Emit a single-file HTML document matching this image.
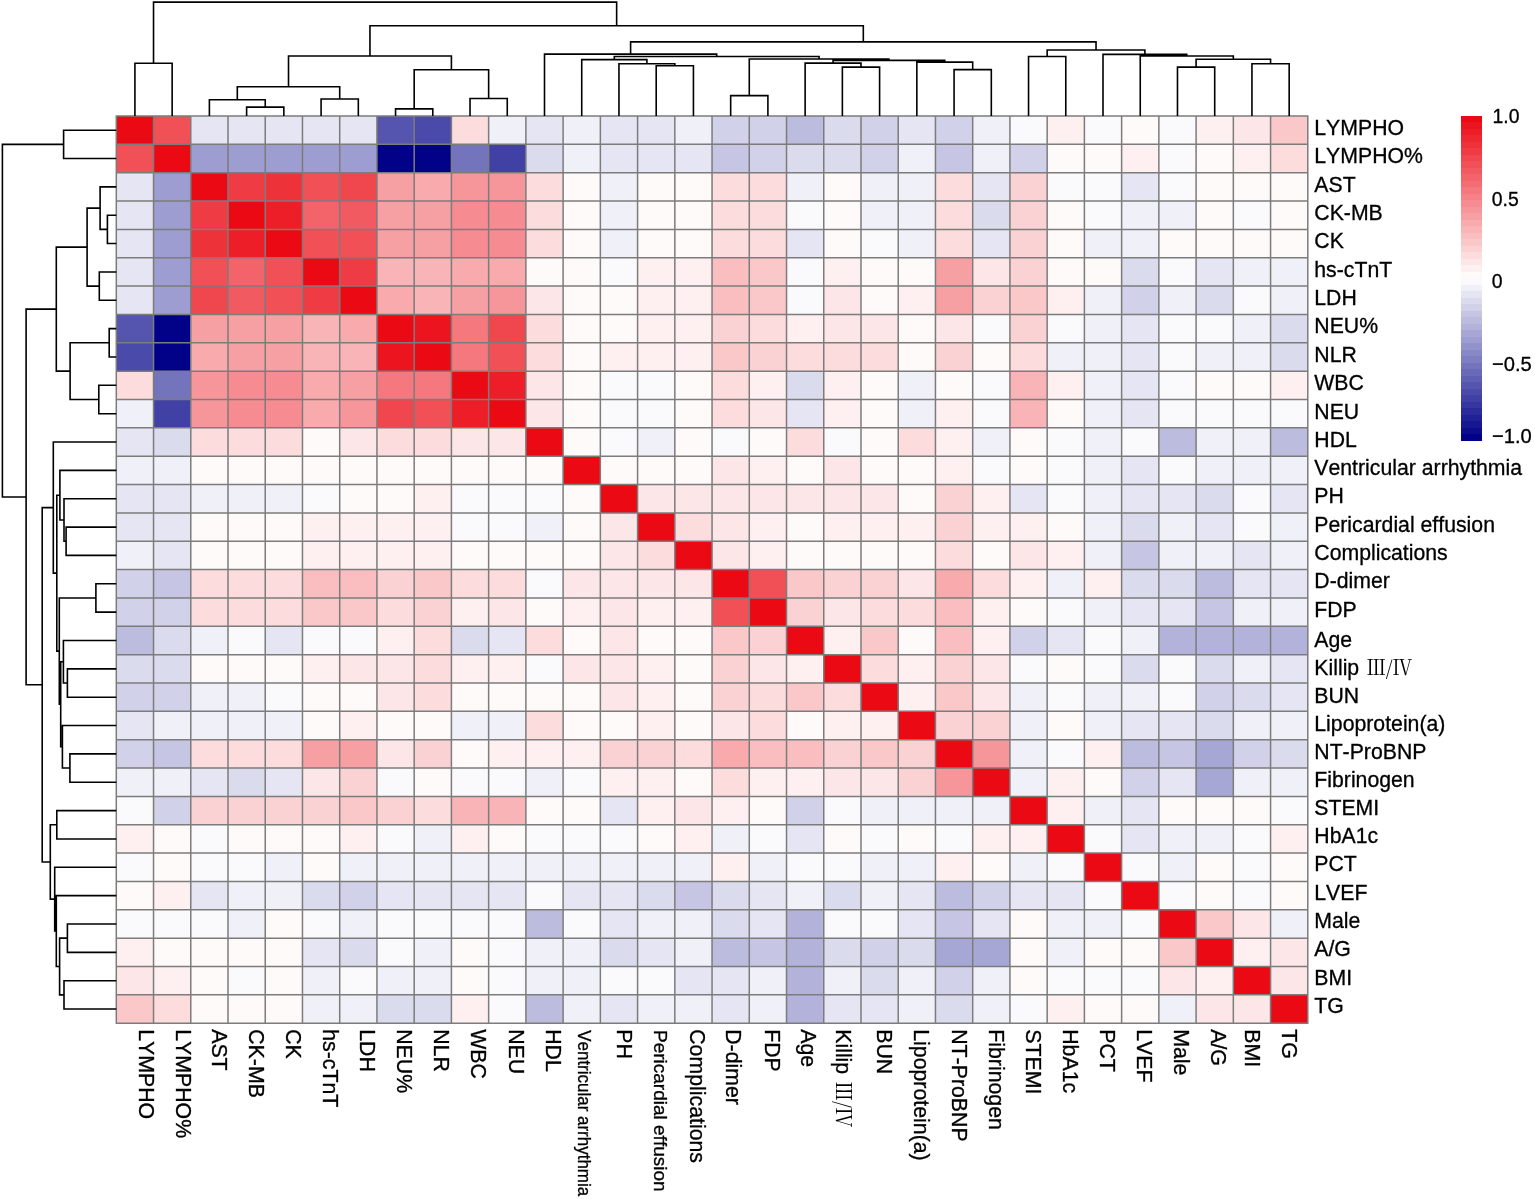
<!DOCTYPE html>
<html lang="en"><head><meta charset="utf-8"><title>Correlation heatmap</title>
<style>html,body{margin:0;padding:0;background:#fff}body{width:1535px;height:1199px;overflow:hidden}svg{display:block}text{font-kerning:none;stroke:#000;stroke-width:0.3px;font-family:"Liberation Sans","Noto Serif CJK SC",sans-serif;fill:#000}.rn{stroke-width:0;font-family:"Noto Serif CJK SC","Liberation Serif",serif}</style></head><body>
<svg width="1535" height="1199" viewBox="0 0 1535 1199">
<rect width="1535" height="1199" fill="#fff"/>
<g shape-rendering="crispEdges">
<rect x="116.30" y="116.00" width="37.28" height="28.40" fill="#eb0a14"/>
<rect x="153.53" y="116.00" width="37.28" height="28.40" fill="#f15057"/>
<rect x="190.77" y="116.00" width="37.28" height="28.40" fill="#e5e5f3"/>
<rect x="228.00" y="116.00" width="37.28" height="28.40" fill="#e5e5f3"/>
<rect x="265.24" y="116.00" width="37.28" height="28.40" fill="#e5e5f3"/>
<rect x="302.47" y="116.00" width="37.28" height="28.40" fill="#e5e5f3"/>
<rect x="339.71" y="116.00" width="37.28" height="28.40" fill="#e5e5f3"/>
<rect x="376.94" y="116.00" width="37.28" height="28.40" fill="#5555af"/>
<rect x="414.18" y="116.00" width="37.28" height="28.40" fill="#4a4aaa"/>
<rect x="451.41" y="116.00" width="37.28" height="28.40" fill="#fcdcdd"/>
<rect x="488.64" y="116.00" width="37.28" height="28.40" fill="#f0f0f8"/>
<rect x="525.88" y="116.00" width="37.28" height="28.40" fill="#e5e5f3"/>
<rect x="563.11" y="116.00" width="37.28" height="28.40" fill="#f0f0f8"/>
<rect x="600.35" y="116.00" width="37.28" height="28.40" fill="#e5e5f3"/>
<rect x="637.58" y="116.00" width="37.28" height="28.40" fill="#e5e5f3"/>
<rect x="674.82" y="116.00" width="37.28" height="28.40" fill="#f0f0f8"/>
<rect x="712.05" y="116.00" width="37.28" height="28.40" fill="#d1d1e9"/>
<rect x="749.28" y="116.00" width="37.28" height="28.40" fill="#d1d1e9"/>
<rect x="786.52" y="116.00" width="37.28" height="28.40" fill="#bcbcdf"/>
<rect x="823.75" y="116.00" width="37.28" height="28.40" fill="#dbdbee"/>
<rect x="860.99" y="116.00" width="37.28" height="28.40" fill="#d1d1e9"/>
<rect x="898.22" y="116.00" width="37.28" height="28.40" fill="#e5e5f3"/>
<rect x="935.46" y="116.00" width="37.28" height="28.40" fill="#d1d1e9"/>
<rect x="972.69" y="116.00" width="37.28" height="28.40" fill="#f0f0f8"/>
<rect x="1009.92" y="116.00" width="37.28" height="28.40" fill="#fafafd"/>
<rect x="1047.16" y="116.00" width="37.28" height="28.40" fill="#fef0f1"/>
<rect x="1084.39" y="116.00" width="37.28" height="28.40" fill="#fafafd"/>
<rect x="1121.63" y="116.00" width="37.28" height="28.40" fill="#fffafa"/>
<rect x="1158.86" y="116.00" width="37.28" height="28.40" fill="#fafafd"/>
<rect x="1196.10" y="116.00" width="37.28" height="28.40" fill="#fef0f1"/>
<rect x="1233.33" y="116.00" width="37.28" height="28.40" fill="#fde6e7"/>
<rect x="1270.57" y="116.00" width="37.28" height="28.40" fill="#fbc8ca"/>
<rect x="116.30" y="144.35" width="37.28" height="28.40" fill="#f15057"/>
<rect x="153.53" y="144.35" width="37.28" height="28.40" fill="#eb0a14"/>
<rect x="190.77" y="144.35" width="37.28" height="28.40" fill="#9d9dd1"/>
<rect x="228.00" y="144.35" width="37.28" height="28.40" fill="#9d9dd1"/>
<rect x="265.24" y="144.35" width="37.28" height="28.40" fill="#9d9dd1"/>
<rect x="302.47" y="144.35" width="37.28" height="28.40" fill="#9d9dd1"/>
<rect x="339.71" y="144.35" width="37.28" height="28.40" fill="#9d9dd1"/>
<rect x="376.94" y="144.35" width="37.28" height="28.40" fill="#020288"/>
<rect x="414.18" y="144.35" width="37.28" height="28.40" fill="#020288"/>
<rect x="451.41" y="144.35" width="37.28" height="28.40" fill="#7474bd"/>
<rect x="488.64" y="144.35" width="37.28" height="28.40" fill="#4040a5"/>
<rect x="525.88" y="144.35" width="37.28" height="28.40" fill="#dbdbee"/>
<rect x="563.11" y="144.35" width="37.28" height="28.40" fill="#f0f0f8"/>
<rect x="600.35" y="144.35" width="37.28" height="28.40" fill="#e5e5f3"/>
<rect x="637.58" y="144.35" width="37.28" height="28.40" fill="#e5e5f3"/>
<rect x="674.82" y="144.35" width="37.28" height="28.40" fill="#e5e5f3"/>
<rect x="712.05" y="144.35" width="37.28" height="28.40" fill="#c6c6e4"/>
<rect x="749.28" y="144.35" width="37.28" height="28.40" fill="#d1d1e9"/>
<rect x="786.52" y="144.35" width="37.28" height="28.40" fill="#dbdbee"/>
<rect x="823.75" y="144.35" width="37.28" height="28.40" fill="#dbdbee"/>
<rect x="860.99" y="144.35" width="37.28" height="28.40" fill="#d1d1e9"/>
<rect x="898.22" y="144.35" width="37.28" height="28.40" fill="#f0f0f8"/>
<rect x="935.46" y="144.35" width="37.28" height="28.40" fill="#c6c6e4"/>
<rect x="972.69" y="144.35" width="37.28" height="28.40" fill="#f0f0f8"/>
<rect x="1009.92" y="144.35" width="37.28" height="28.40" fill="#d1d1e9"/>
<rect x="1047.16" y="144.35" width="37.28" height="28.40" fill="#fffafa"/>
<rect x="1084.39" y="144.35" width="37.28" height="28.40" fill="#fffafa"/>
<rect x="1121.63" y="144.35" width="37.28" height="28.40" fill="#fef0f1"/>
<rect x="1158.86" y="144.35" width="37.28" height="28.40" fill="#fafafd"/>
<rect x="1196.10" y="144.35" width="37.28" height="28.40" fill="#fffafa"/>
<rect x="1233.33" y="144.35" width="37.28" height="28.40" fill="#fef0f1"/>
<rect x="1270.57" y="144.35" width="37.28" height="28.40" fill="#fcdcdd"/>
<rect x="116.30" y="172.70" width="37.28" height="28.40" fill="#e5e5f3"/>
<rect x="153.53" y="172.70" width="37.28" height="28.40" fill="#9d9dd1"/>
<rect x="190.77" y="172.70" width="37.28" height="28.40" fill="#eb0a14"/>
<rect x="228.00" y="172.70" width="37.28" height="28.40" fill="#ef3c44"/>
<rect x="265.24" y="172.70" width="37.28" height="28.40" fill="#ee323a"/>
<rect x="302.47" y="172.70" width="37.28" height="28.40" fill="#f15057"/>
<rect x="339.71" y="172.70" width="37.28" height="28.40" fill="#f0464e"/>
<rect x="376.94" y="172.70" width="37.28" height="28.40" fill="#f7a0a4"/>
<rect x="414.18" y="172.70" width="37.28" height="28.40" fill="#f8aaad"/>
<rect x="451.41" y="172.70" width="37.28" height="28.40" fill="#f6969a"/>
<rect x="488.64" y="172.70" width="37.28" height="28.40" fill="#f6969a"/>
<rect x="525.88" y="172.70" width="37.28" height="28.40" fill="#fcdcdd"/>
<rect x="563.11" y="172.70" width="37.28" height="28.40" fill="#fffafa"/>
<rect x="600.35" y="172.70" width="37.28" height="28.40" fill="#f0f0f8"/>
<rect x="637.58" y="172.70" width="37.28" height="28.40" fill="#fffafa"/>
<rect x="674.82" y="172.70" width="37.28" height="28.40" fill="#fffafa"/>
<rect x="712.05" y="172.70" width="37.28" height="28.40" fill="#fcdcdd"/>
<rect x="749.28" y="172.70" width="37.28" height="28.40" fill="#fcdcdd"/>
<rect x="786.52" y="172.70" width="37.28" height="28.40" fill="#f0f0f8"/>
<rect x="823.75" y="172.70" width="37.28" height="28.40" fill="#fffafa"/>
<rect x="860.99" y="172.70" width="37.28" height="28.40" fill="#f0f0f8"/>
<rect x="898.22" y="172.70" width="37.28" height="28.40" fill="#f0f0f8"/>
<rect x="935.46" y="172.70" width="37.28" height="28.40" fill="#fcdcdd"/>
<rect x="972.69" y="172.70" width="37.28" height="28.40" fill="#e5e5f3"/>
<rect x="1009.92" y="172.70" width="37.28" height="28.40" fill="#fbd2d4"/>
<rect x="1047.16" y="172.70" width="37.28" height="28.40" fill="#fafafd"/>
<rect x="1084.39" y="172.70" width="37.28" height="28.40" fill="#fafafd"/>
<rect x="1121.63" y="172.70" width="37.28" height="28.40" fill="#e5e5f3"/>
<rect x="1158.86" y="172.70" width="37.28" height="28.40" fill="#fafafd"/>
<rect x="1196.10" y="172.70" width="37.28" height="28.40" fill="#fffafa"/>
<rect x="1233.33" y="172.70" width="37.28" height="28.40" fill="#fffafa"/>
<rect x="1270.57" y="172.70" width="37.28" height="28.40" fill="#fffafa"/>
<rect x="116.30" y="201.05" width="37.28" height="28.40" fill="#e5e5f3"/>
<rect x="153.53" y="201.05" width="37.28" height="28.40" fill="#9d9dd1"/>
<rect x="190.77" y="201.05" width="37.28" height="28.40" fill="#ef3c44"/>
<rect x="228.00" y="201.05" width="37.28" height="28.40" fill="#eb0a14"/>
<rect x="265.24" y="201.05" width="37.28" height="28.40" fill="#ed1e27"/>
<rect x="302.47" y="201.05" width="37.28" height="28.40" fill="#f2646a"/>
<rect x="339.71" y="201.05" width="37.28" height="28.40" fill="#f25a61"/>
<rect x="376.94" y="201.05" width="37.28" height="28.40" fill="#f7a0a4"/>
<rect x="414.18" y="201.05" width="37.28" height="28.40" fill="#f7a0a4"/>
<rect x="451.41" y="201.05" width="37.28" height="28.40" fill="#f68c91"/>
<rect x="488.64" y="201.05" width="37.28" height="28.40" fill="#f68c91"/>
<rect x="525.88" y="201.05" width="37.28" height="28.40" fill="#fcdcdd"/>
<rect x="563.11" y="201.05" width="37.28" height="28.40" fill="#fffafa"/>
<rect x="600.35" y="201.05" width="37.28" height="28.40" fill="#f0f0f8"/>
<rect x="637.58" y="201.05" width="37.28" height="28.40" fill="#fffafa"/>
<rect x="674.82" y="201.05" width="37.28" height="28.40" fill="#fffafa"/>
<rect x="712.05" y="201.05" width="37.28" height="28.40" fill="#fcdcdd"/>
<rect x="749.28" y="201.05" width="37.28" height="28.40" fill="#fcdcdd"/>
<rect x="786.52" y="201.05" width="37.28" height="28.40" fill="#fafafd"/>
<rect x="823.75" y="201.05" width="37.28" height="28.40" fill="#fffafa"/>
<rect x="860.99" y="201.05" width="37.28" height="28.40" fill="#f0f0f8"/>
<rect x="898.22" y="201.05" width="37.28" height="28.40" fill="#f0f0f8"/>
<rect x="935.46" y="201.05" width="37.28" height="28.40" fill="#fcdcdd"/>
<rect x="972.69" y="201.05" width="37.28" height="28.40" fill="#dbdbee"/>
<rect x="1009.92" y="201.05" width="37.28" height="28.40" fill="#fbd2d4"/>
<rect x="1047.16" y="201.05" width="37.28" height="28.40" fill="#fffafa"/>
<rect x="1084.39" y="201.05" width="37.28" height="28.40" fill="#fafafd"/>
<rect x="1121.63" y="201.05" width="37.28" height="28.40" fill="#f0f0f8"/>
<rect x="1158.86" y="201.05" width="37.28" height="28.40" fill="#f0f0f8"/>
<rect x="1196.10" y="201.05" width="37.28" height="28.40" fill="#fffafa"/>
<rect x="1233.33" y="201.05" width="37.28" height="28.40" fill="#fafafd"/>
<rect x="1270.57" y="201.05" width="37.28" height="28.40" fill="#fffafa"/>
<rect x="116.30" y="229.40" width="37.28" height="28.40" fill="#e5e5f3"/>
<rect x="153.53" y="229.40" width="37.28" height="28.40" fill="#9d9dd1"/>
<rect x="190.77" y="229.40" width="37.28" height="28.40" fill="#ee323a"/>
<rect x="228.00" y="229.40" width="37.28" height="28.40" fill="#ed1e27"/>
<rect x="265.24" y="229.40" width="37.28" height="28.40" fill="#eb0a14"/>
<rect x="302.47" y="229.40" width="37.28" height="28.40" fill="#f15057"/>
<rect x="339.71" y="229.40" width="37.28" height="28.40" fill="#f15057"/>
<rect x="376.94" y="229.40" width="37.28" height="28.40" fill="#f7a0a4"/>
<rect x="414.18" y="229.40" width="37.28" height="28.40" fill="#f7a0a4"/>
<rect x="451.41" y="229.40" width="37.28" height="28.40" fill="#f68c91"/>
<rect x="488.64" y="229.40" width="37.28" height="28.40" fill="#f68c91"/>
<rect x="525.88" y="229.40" width="37.28" height="28.40" fill="#fcdcdd"/>
<rect x="563.11" y="229.40" width="37.28" height="28.40" fill="#fffafa"/>
<rect x="600.35" y="229.40" width="37.28" height="28.40" fill="#f0f0f8"/>
<rect x="637.58" y="229.40" width="37.28" height="28.40" fill="#fffafa"/>
<rect x="674.82" y="229.40" width="37.28" height="28.40" fill="#fffafa"/>
<rect x="712.05" y="229.40" width="37.28" height="28.40" fill="#fcdcdd"/>
<rect x="749.28" y="229.40" width="37.28" height="28.40" fill="#fcdcdd"/>
<rect x="786.52" y="229.40" width="37.28" height="28.40" fill="#e5e5f3"/>
<rect x="823.75" y="229.40" width="37.28" height="28.40" fill="#fffafa"/>
<rect x="860.99" y="229.40" width="37.28" height="28.40" fill="#fafafd"/>
<rect x="898.22" y="229.40" width="37.28" height="28.40" fill="#f0f0f8"/>
<rect x="935.46" y="229.40" width="37.28" height="28.40" fill="#fcdcdd"/>
<rect x="972.69" y="229.40" width="37.28" height="28.40" fill="#e5e5f3"/>
<rect x="1009.92" y="229.40" width="37.28" height="28.40" fill="#fbd2d4"/>
<rect x="1047.16" y="229.40" width="37.28" height="28.40" fill="#fffafa"/>
<rect x="1084.39" y="229.40" width="37.28" height="28.40" fill="#f0f0f8"/>
<rect x="1121.63" y="229.40" width="37.28" height="28.40" fill="#f0f0f8"/>
<rect x="1158.86" y="229.40" width="37.28" height="28.40" fill="#fffafa"/>
<rect x="1196.10" y="229.40" width="37.28" height="28.40" fill="#fffafa"/>
<rect x="1233.33" y="229.40" width="37.28" height="28.40" fill="#fffafa"/>
<rect x="1270.57" y="229.40" width="37.28" height="28.40" fill="#fffafa"/>
<rect x="116.30" y="257.75" width="37.28" height="28.40" fill="#e5e5f3"/>
<rect x="153.53" y="257.75" width="37.28" height="28.40" fill="#9d9dd1"/>
<rect x="190.77" y="257.75" width="37.28" height="28.40" fill="#f15057"/>
<rect x="228.00" y="257.75" width="37.28" height="28.40" fill="#f2646a"/>
<rect x="265.24" y="257.75" width="37.28" height="28.40" fill="#f15057"/>
<rect x="302.47" y="257.75" width="37.28" height="28.40" fill="#eb0a14"/>
<rect x="339.71" y="257.75" width="37.28" height="28.40" fill="#ef3c44"/>
<rect x="376.94" y="257.75" width="37.28" height="28.40" fill="#f9b4b7"/>
<rect x="414.18" y="257.75" width="37.28" height="28.40" fill="#f9b4b7"/>
<rect x="451.41" y="257.75" width="37.28" height="28.40" fill="#f8aaad"/>
<rect x="488.64" y="257.75" width="37.28" height="28.40" fill="#f8aaad"/>
<rect x="525.88" y="257.75" width="37.28" height="28.40" fill="#fffafa"/>
<rect x="563.11" y="257.75" width="37.28" height="28.40" fill="#fffafa"/>
<rect x="600.35" y="257.75" width="37.28" height="28.40" fill="#fafafd"/>
<rect x="637.58" y="257.75" width="37.28" height="28.40" fill="#fef0f1"/>
<rect x="674.82" y="257.75" width="37.28" height="28.40" fill="#fef0f1"/>
<rect x="712.05" y="257.75" width="37.28" height="28.40" fill="#fabec1"/>
<rect x="749.28" y="257.75" width="37.28" height="28.40" fill="#fbc8ca"/>
<rect x="786.52" y="257.75" width="37.28" height="28.40" fill="#fafafd"/>
<rect x="823.75" y="257.75" width="37.28" height="28.40" fill="#fef0f1"/>
<rect x="860.99" y="257.75" width="37.28" height="28.40" fill="#fffafa"/>
<rect x="898.22" y="257.75" width="37.28" height="28.40" fill="#fffafa"/>
<rect x="935.46" y="257.75" width="37.28" height="28.40" fill="#f7a0a4"/>
<rect x="972.69" y="257.75" width="37.28" height="28.40" fill="#fde6e7"/>
<rect x="1009.92" y="257.75" width="37.28" height="28.40" fill="#fbd2d4"/>
<rect x="1047.16" y="257.75" width="37.28" height="28.40" fill="#fffafa"/>
<rect x="1084.39" y="257.75" width="37.28" height="28.40" fill="#fffafa"/>
<rect x="1121.63" y="257.75" width="37.28" height="28.40" fill="#dbdbee"/>
<rect x="1158.86" y="257.75" width="37.28" height="28.40" fill="#fafafd"/>
<rect x="1196.10" y="257.75" width="37.28" height="28.40" fill="#e5e5f3"/>
<rect x="1233.33" y="257.75" width="37.28" height="28.40" fill="#f0f0f8"/>
<rect x="1270.57" y="257.75" width="37.28" height="28.40" fill="#f0f0f8"/>
<rect x="116.30" y="286.10" width="37.28" height="28.40" fill="#e5e5f3"/>
<rect x="153.53" y="286.10" width="37.28" height="28.40" fill="#9d9dd1"/>
<rect x="190.77" y="286.10" width="37.28" height="28.40" fill="#f0464e"/>
<rect x="228.00" y="286.10" width="37.28" height="28.40" fill="#f25a61"/>
<rect x="265.24" y="286.10" width="37.28" height="28.40" fill="#f15057"/>
<rect x="302.47" y="286.10" width="37.28" height="28.40" fill="#ef3c44"/>
<rect x="339.71" y="286.10" width="37.28" height="28.40" fill="#eb0a14"/>
<rect x="376.94" y="286.10" width="37.28" height="28.40" fill="#f8aaad"/>
<rect x="414.18" y="286.10" width="37.28" height="28.40" fill="#f9b4b7"/>
<rect x="451.41" y="286.10" width="37.28" height="28.40" fill="#f7a0a4"/>
<rect x="488.64" y="286.10" width="37.28" height="28.40" fill="#f6969a"/>
<rect x="525.88" y="286.10" width="37.28" height="28.40" fill="#fde6e7"/>
<rect x="563.11" y="286.10" width="37.28" height="28.40" fill="#fffafa"/>
<rect x="600.35" y="286.10" width="37.28" height="28.40" fill="#fffafa"/>
<rect x="637.58" y="286.10" width="37.28" height="28.40" fill="#fef0f1"/>
<rect x="674.82" y="286.10" width="37.28" height="28.40" fill="#fef0f1"/>
<rect x="712.05" y="286.10" width="37.28" height="28.40" fill="#fabec1"/>
<rect x="749.28" y="286.10" width="37.28" height="28.40" fill="#fbc8ca"/>
<rect x="786.52" y="286.10" width="37.28" height="28.40" fill="#fafafd"/>
<rect x="823.75" y="286.10" width="37.28" height="28.40" fill="#fde6e7"/>
<rect x="860.99" y="286.10" width="37.28" height="28.40" fill="#fffafa"/>
<rect x="898.22" y="286.10" width="37.28" height="28.40" fill="#fef0f1"/>
<rect x="935.46" y="286.10" width="37.28" height="28.40" fill="#f7a0a4"/>
<rect x="972.69" y="286.10" width="37.28" height="28.40" fill="#fbd2d4"/>
<rect x="1009.92" y="286.10" width="37.28" height="28.40" fill="#fbc8ca"/>
<rect x="1047.16" y="286.10" width="37.28" height="28.40" fill="#fef0f1"/>
<rect x="1084.39" y="286.10" width="37.28" height="28.40" fill="#f0f0f8"/>
<rect x="1121.63" y="286.10" width="37.28" height="28.40" fill="#d1d1e9"/>
<rect x="1158.86" y="286.10" width="37.28" height="28.40" fill="#f0f0f8"/>
<rect x="1196.10" y="286.10" width="37.28" height="28.40" fill="#dbdbee"/>
<rect x="1233.33" y="286.10" width="37.28" height="28.40" fill="#fafafd"/>
<rect x="1270.57" y="286.10" width="37.28" height="28.40" fill="#f0f0f8"/>
<rect x="116.30" y="314.45" width="37.28" height="28.40" fill="#5555af"/>
<rect x="153.53" y="314.45" width="37.28" height="28.40" fill="#020288"/>
<rect x="190.77" y="314.45" width="37.28" height="28.40" fill="#f7a0a4"/>
<rect x="228.00" y="314.45" width="37.28" height="28.40" fill="#f7a0a4"/>
<rect x="265.24" y="314.45" width="37.28" height="28.40" fill="#f7a0a4"/>
<rect x="302.47" y="314.45" width="37.28" height="28.40" fill="#f9b4b7"/>
<rect x="339.71" y="314.45" width="37.28" height="28.40" fill="#f8aaad"/>
<rect x="376.94" y="314.45" width="37.28" height="28.40" fill="#eb0a14"/>
<rect x="414.18" y="314.45" width="37.28" height="28.40" fill="#ec141e"/>
<rect x="451.41" y="314.45" width="37.28" height="28.40" fill="#f4787e"/>
<rect x="488.64" y="314.45" width="37.28" height="28.40" fill="#f0464e"/>
<rect x="525.88" y="314.45" width="37.28" height="28.40" fill="#fcdcdd"/>
<rect x="563.11" y="314.45" width="37.28" height="28.40" fill="#fffafa"/>
<rect x="600.35" y="314.45" width="37.28" height="28.40" fill="#fffafa"/>
<rect x="637.58" y="314.45" width="37.28" height="28.40" fill="#fef0f1"/>
<rect x="674.82" y="314.45" width="37.28" height="28.40" fill="#fef0f1"/>
<rect x="712.05" y="314.45" width="37.28" height="28.40" fill="#fbd2d4"/>
<rect x="749.28" y="314.45" width="37.28" height="28.40" fill="#fcdcdd"/>
<rect x="786.52" y="314.45" width="37.28" height="28.40" fill="#fef0f1"/>
<rect x="823.75" y="314.45" width="37.28" height="28.40" fill="#fde6e7"/>
<rect x="860.99" y="314.45" width="37.28" height="28.40" fill="#fde6e7"/>
<rect x="898.22" y="314.45" width="37.28" height="28.40" fill="#fffafa"/>
<rect x="935.46" y="314.45" width="37.28" height="28.40" fill="#fde6e7"/>
<rect x="972.69" y="314.45" width="37.28" height="28.40" fill="#fafafd"/>
<rect x="1009.92" y="314.45" width="37.28" height="28.40" fill="#fbd2d4"/>
<rect x="1047.16" y="314.45" width="37.28" height="28.40" fill="#fafafd"/>
<rect x="1084.39" y="314.45" width="37.28" height="28.40" fill="#f0f0f8"/>
<rect x="1121.63" y="314.45" width="37.28" height="28.40" fill="#e5e5f3"/>
<rect x="1158.86" y="314.45" width="37.28" height="28.40" fill="#fafafd"/>
<rect x="1196.10" y="314.45" width="37.28" height="28.40" fill="#fafafd"/>
<rect x="1233.33" y="314.45" width="37.28" height="28.40" fill="#f0f0f8"/>
<rect x="1270.57" y="314.45" width="37.28" height="28.40" fill="#dbdbee"/>
<rect x="116.30" y="342.80" width="37.28" height="28.40" fill="#4a4aaa"/>
<rect x="153.53" y="342.80" width="37.28" height="28.40" fill="#020288"/>
<rect x="190.77" y="342.80" width="37.28" height="28.40" fill="#f8aaad"/>
<rect x="228.00" y="342.80" width="37.28" height="28.40" fill="#f7a0a4"/>
<rect x="265.24" y="342.80" width="37.28" height="28.40" fill="#f7a0a4"/>
<rect x="302.47" y="342.80" width="37.28" height="28.40" fill="#f9b4b7"/>
<rect x="339.71" y="342.80" width="37.28" height="28.40" fill="#f9b4b7"/>
<rect x="376.94" y="342.80" width="37.28" height="28.40" fill="#ec141e"/>
<rect x="414.18" y="342.80" width="37.28" height="28.40" fill="#eb0a14"/>
<rect x="451.41" y="342.80" width="37.28" height="28.40" fill="#f4787e"/>
<rect x="488.64" y="342.80" width="37.28" height="28.40" fill="#f15057"/>
<rect x="525.88" y="342.80" width="37.28" height="28.40" fill="#fcdcdd"/>
<rect x="563.11" y="342.80" width="37.28" height="28.40" fill="#fffafa"/>
<rect x="600.35" y="342.80" width="37.28" height="28.40" fill="#fef0f1"/>
<rect x="637.58" y="342.80" width="37.28" height="28.40" fill="#fef0f1"/>
<rect x="674.82" y="342.80" width="37.28" height="28.40" fill="#fef0f1"/>
<rect x="712.05" y="342.80" width="37.28" height="28.40" fill="#fbc8ca"/>
<rect x="749.28" y="342.80" width="37.28" height="28.40" fill="#fbd2d4"/>
<rect x="786.52" y="342.80" width="37.28" height="28.40" fill="#fcdcdd"/>
<rect x="823.75" y="342.80" width="37.28" height="28.40" fill="#fcdcdd"/>
<rect x="860.99" y="342.80" width="37.28" height="28.40" fill="#fcdcdd"/>
<rect x="898.22" y="342.80" width="37.28" height="28.40" fill="#fffafa"/>
<rect x="935.46" y="342.80" width="37.28" height="28.40" fill="#fbd2d4"/>
<rect x="972.69" y="342.80" width="37.28" height="28.40" fill="#fffafa"/>
<rect x="1009.92" y="342.80" width="37.28" height="28.40" fill="#fcdcdd"/>
<rect x="1047.16" y="342.80" width="37.28" height="28.40" fill="#f0f0f8"/>
<rect x="1084.39" y="342.80" width="37.28" height="28.40" fill="#f0f0f8"/>
<rect x="1121.63" y="342.80" width="37.28" height="28.40" fill="#e5e5f3"/>
<rect x="1158.86" y="342.80" width="37.28" height="28.40" fill="#fafafd"/>
<rect x="1196.10" y="342.80" width="37.28" height="28.40" fill="#f0f0f8"/>
<rect x="1233.33" y="342.80" width="37.28" height="28.40" fill="#f0f0f8"/>
<rect x="1270.57" y="342.80" width="37.28" height="28.40" fill="#dbdbee"/>
<rect x="116.30" y="371.15" width="37.28" height="28.40" fill="#fcdcdd"/>
<rect x="153.53" y="371.15" width="37.28" height="28.40" fill="#7474bd"/>
<rect x="190.77" y="371.15" width="37.28" height="28.40" fill="#f6969a"/>
<rect x="228.00" y="371.15" width="37.28" height="28.40" fill="#f68c91"/>
<rect x="265.24" y="371.15" width="37.28" height="28.40" fill="#f68c91"/>
<rect x="302.47" y="371.15" width="37.28" height="28.40" fill="#f8aaad"/>
<rect x="339.71" y="371.15" width="37.28" height="28.40" fill="#f7a0a4"/>
<rect x="376.94" y="371.15" width="37.28" height="28.40" fill="#f4787e"/>
<rect x="414.18" y="371.15" width="37.28" height="28.40" fill="#f4787e"/>
<rect x="451.41" y="371.15" width="37.28" height="28.40" fill="#eb0a14"/>
<rect x="488.64" y="371.15" width="37.28" height="28.40" fill="#ed1e27"/>
<rect x="525.88" y="371.15" width="37.28" height="28.40" fill="#fde6e7"/>
<rect x="563.11" y="371.15" width="37.28" height="28.40" fill="#fffafa"/>
<rect x="600.35" y="371.15" width="37.28" height="28.40" fill="#fafafd"/>
<rect x="637.58" y="371.15" width="37.28" height="28.40" fill="#fafafd"/>
<rect x="674.82" y="371.15" width="37.28" height="28.40" fill="#fffafa"/>
<rect x="712.05" y="371.15" width="37.28" height="28.40" fill="#fcdcdd"/>
<rect x="749.28" y="371.15" width="37.28" height="28.40" fill="#fef0f1"/>
<rect x="786.52" y="371.15" width="37.28" height="28.40" fill="#dbdbee"/>
<rect x="823.75" y="371.15" width="37.28" height="28.40" fill="#fef0f1"/>
<rect x="860.99" y="371.15" width="37.28" height="28.40" fill="#fffafa"/>
<rect x="898.22" y="371.15" width="37.28" height="28.40" fill="#f0f0f8"/>
<rect x="935.46" y="371.15" width="37.28" height="28.40" fill="#fffafa"/>
<rect x="972.69" y="371.15" width="37.28" height="28.40" fill="#fafafd"/>
<rect x="1009.92" y="371.15" width="37.28" height="28.40" fill="#f9b4b7"/>
<rect x="1047.16" y="371.15" width="37.28" height="28.40" fill="#fef0f1"/>
<rect x="1084.39" y="371.15" width="37.28" height="28.40" fill="#f0f0f8"/>
<rect x="1121.63" y="371.15" width="37.28" height="28.40" fill="#e5e5f3"/>
<rect x="1158.86" y="371.15" width="37.28" height="28.40" fill="#fafafd"/>
<rect x="1196.10" y="371.15" width="37.28" height="28.40" fill="#fffafa"/>
<rect x="1233.33" y="371.15" width="37.28" height="28.40" fill="#fffafa"/>
<rect x="1270.57" y="371.15" width="37.28" height="28.40" fill="#fef0f1"/>
<rect x="116.30" y="399.50" width="37.28" height="28.40" fill="#f0f0f8"/>
<rect x="153.53" y="399.50" width="37.28" height="28.40" fill="#4040a5"/>
<rect x="190.77" y="399.50" width="37.28" height="28.40" fill="#f6969a"/>
<rect x="228.00" y="399.50" width="37.28" height="28.40" fill="#f68c91"/>
<rect x="265.24" y="399.50" width="37.28" height="28.40" fill="#f68c91"/>
<rect x="302.47" y="399.50" width="37.28" height="28.40" fill="#f8aaad"/>
<rect x="339.71" y="399.50" width="37.28" height="28.40" fill="#f6969a"/>
<rect x="376.94" y="399.50" width="37.28" height="28.40" fill="#f0464e"/>
<rect x="414.18" y="399.50" width="37.28" height="28.40" fill="#f15057"/>
<rect x="451.41" y="399.50" width="37.28" height="28.40" fill="#ed1e27"/>
<rect x="488.64" y="399.50" width="37.28" height="28.40" fill="#eb0a14"/>
<rect x="525.88" y="399.50" width="37.28" height="28.40" fill="#fde6e7"/>
<rect x="563.11" y="399.50" width="37.28" height="28.40" fill="#fffafa"/>
<rect x="600.35" y="399.50" width="37.28" height="28.40" fill="#fafafd"/>
<rect x="637.58" y="399.50" width="37.28" height="28.40" fill="#fafafd"/>
<rect x="674.82" y="399.50" width="37.28" height="28.40" fill="#fffafa"/>
<rect x="712.05" y="399.50" width="37.28" height="28.40" fill="#fcdcdd"/>
<rect x="749.28" y="399.50" width="37.28" height="28.40" fill="#fde6e7"/>
<rect x="786.52" y="399.50" width="37.28" height="28.40" fill="#e5e5f3"/>
<rect x="823.75" y="399.50" width="37.28" height="28.40" fill="#fef0f1"/>
<rect x="860.99" y="399.50" width="37.28" height="28.40" fill="#fffafa"/>
<rect x="898.22" y="399.50" width="37.28" height="28.40" fill="#f0f0f8"/>
<rect x="935.46" y="399.50" width="37.28" height="28.40" fill="#fef0f1"/>
<rect x="972.69" y="399.50" width="37.28" height="28.40" fill="#fafafd"/>
<rect x="1009.92" y="399.50" width="37.28" height="28.40" fill="#f9b4b7"/>
<rect x="1047.16" y="399.50" width="37.28" height="28.40" fill="#fffafa"/>
<rect x="1084.39" y="399.50" width="37.28" height="28.40" fill="#f0f0f8"/>
<rect x="1121.63" y="399.50" width="37.28" height="28.40" fill="#e5e5f3"/>
<rect x="1158.86" y="399.50" width="37.28" height="28.40" fill="#fafafd"/>
<rect x="1196.10" y="399.50" width="37.28" height="28.40" fill="#fafafd"/>
<rect x="1233.33" y="399.50" width="37.28" height="28.40" fill="#fafafd"/>
<rect x="1270.57" y="399.50" width="37.28" height="28.40" fill="#fafafd"/>
<rect x="116.30" y="427.85" width="37.28" height="28.40" fill="#e5e5f3"/>
<rect x="153.53" y="427.85" width="37.28" height="28.40" fill="#dbdbee"/>
<rect x="190.77" y="427.85" width="37.28" height="28.40" fill="#fcdcdd"/>
<rect x="228.00" y="427.85" width="37.28" height="28.40" fill="#fcdcdd"/>
<rect x="265.24" y="427.85" width="37.28" height="28.40" fill="#fcdcdd"/>
<rect x="302.47" y="427.85" width="37.28" height="28.40" fill="#fffafa"/>
<rect x="339.71" y="427.85" width="37.28" height="28.40" fill="#fde6e7"/>
<rect x="376.94" y="427.85" width="37.28" height="28.40" fill="#fcdcdd"/>
<rect x="414.18" y="427.85" width="37.28" height="28.40" fill="#fcdcdd"/>
<rect x="451.41" y="427.85" width="37.28" height="28.40" fill="#fde6e7"/>
<rect x="488.64" y="427.85" width="37.28" height="28.40" fill="#fde6e7"/>
<rect x="525.88" y="427.85" width="37.28" height="28.40" fill="#eb0a14"/>
<rect x="563.11" y="427.85" width="37.28" height="28.40" fill="#fffafa"/>
<rect x="600.35" y="427.85" width="37.28" height="28.40" fill="#fafafd"/>
<rect x="637.58" y="427.85" width="37.28" height="28.40" fill="#f0f0f8"/>
<rect x="674.82" y="427.85" width="37.28" height="28.40" fill="#fffafa"/>
<rect x="712.05" y="427.85" width="37.28" height="28.40" fill="#fafafd"/>
<rect x="749.28" y="427.85" width="37.28" height="28.40" fill="#fffafa"/>
<rect x="786.52" y="427.85" width="37.28" height="28.40" fill="#fcdcdd"/>
<rect x="823.75" y="427.85" width="37.28" height="28.40" fill="#fafafd"/>
<rect x="860.99" y="427.85" width="37.28" height="28.40" fill="#fffafa"/>
<rect x="898.22" y="427.85" width="37.28" height="28.40" fill="#fcdcdd"/>
<rect x="935.46" y="427.85" width="37.28" height="28.40" fill="#fef0f1"/>
<rect x="972.69" y="427.85" width="37.28" height="28.40" fill="#f0f0f8"/>
<rect x="1009.92" y="427.85" width="37.28" height="28.40" fill="#fffafa"/>
<rect x="1047.16" y="427.85" width="37.28" height="28.40" fill="#fafafd"/>
<rect x="1084.39" y="427.85" width="37.28" height="28.40" fill="#f0f0f8"/>
<rect x="1121.63" y="427.85" width="37.28" height="28.40" fill="#fafafd"/>
<rect x="1158.86" y="427.85" width="37.28" height="28.40" fill="#bcbcdf"/>
<rect x="1196.10" y="427.85" width="37.28" height="28.40" fill="#f0f0f8"/>
<rect x="1233.33" y="427.85" width="37.28" height="28.40" fill="#f0f0f8"/>
<rect x="1270.57" y="427.85" width="37.28" height="28.40" fill="#bcbcdf"/>
<rect x="116.30" y="456.20" width="37.28" height="28.40" fill="#f0f0f8"/>
<rect x="153.53" y="456.20" width="37.28" height="28.40" fill="#f0f0f8"/>
<rect x="190.77" y="456.20" width="37.28" height="28.40" fill="#fffafa"/>
<rect x="228.00" y="456.20" width="37.28" height="28.40" fill="#fffafa"/>
<rect x="265.24" y="456.20" width="37.28" height="28.40" fill="#fffafa"/>
<rect x="302.47" y="456.20" width="37.28" height="28.40" fill="#fffafa"/>
<rect x="339.71" y="456.20" width="37.28" height="28.40" fill="#fffafa"/>
<rect x="376.94" y="456.20" width="37.28" height="28.40" fill="#fffafa"/>
<rect x="414.18" y="456.20" width="37.28" height="28.40" fill="#fffafa"/>
<rect x="451.41" y="456.20" width="37.28" height="28.40" fill="#fffafa"/>
<rect x="488.64" y="456.20" width="37.28" height="28.40" fill="#fffafa"/>
<rect x="525.88" y="456.20" width="37.28" height="28.40" fill="#fffafa"/>
<rect x="563.11" y="456.20" width="37.28" height="28.40" fill="#eb0a14"/>
<rect x="600.35" y="456.20" width="37.28" height="28.40" fill="#fffafa"/>
<rect x="637.58" y="456.20" width="37.28" height="28.40" fill="#fffafa"/>
<rect x="674.82" y="456.20" width="37.28" height="28.40" fill="#fffafa"/>
<rect x="712.05" y="456.20" width="37.28" height="28.40" fill="#fde6e7"/>
<rect x="749.28" y="456.20" width="37.28" height="28.40" fill="#fef0f1"/>
<rect x="786.52" y="456.20" width="37.28" height="28.40" fill="#fffafa"/>
<rect x="823.75" y="456.20" width="37.28" height="28.40" fill="#fde6e7"/>
<rect x="860.99" y="456.20" width="37.28" height="28.40" fill="#fffafa"/>
<rect x="898.22" y="456.20" width="37.28" height="28.40" fill="#fffafa"/>
<rect x="935.46" y="456.20" width="37.28" height="28.40" fill="#fef0f1"/>
<rect x="972.69" y="456.20" width="37.28" height="28.40" fill="#fafafd"/>
<rect x="1009.92" y="456.20" width="37.28" height="28.40" fill="#fffafa"/>
<rect x="1047.16" y="456.20" width="37.28" height="28.40" fill="#fafafd"/>
<rect x="1084.39" y="456.20" width="37.28" height="28.40" fill="#f0f0f8"/>
<rect x="1121.63" y="456.20" width="37.28" height="28.40" fill="#e5e5f3"/>
<rect x="1158.86" y="456.20" width="37.28" height="28.40" fill="#fafafd"/>
<rect x="1196.10" y="456.20" width="37.28" height="28.40" fill="#f0f0f8"/>
<rect x="1233.33" y="456.20" width="37.28" height="28.40" fill="#f0f0f8"/>
<rect x="1270.57" y="456.20" width="37.28" height="28.40" fill="#f0f0f8"/>
<rect x="116.30" y="484.55" width="37.28" height="28.40" fill="#e5e5f3"/>
<rect x="153.53" y="484.55" width="37.28" height="28.40" fill="#e5e5f3"/>
<rect x="190.77" y="484.55" width="37.28" height="28.40" fill="#f0f0f8"/>
<rect x="228.00" y="484.55" width="37.28" height="28.40" fill="#f0f0f8"/>
<rect x="265.24" y="484.55" width="37.28" height="28.40" fill="#f0f0f8"/>
<rect x="302.47" y="484.55" width="37.28" height="28.40" fill="#fafafd"/>
<rect x="339.71" y="484.55" width="37.28" height="28.40" fill="#fffafa"/>
<rect x="376.94" y="484.55" width="37.28" height="28.40" fill="#fffafa"/>
<rect x="414.18" y="484.55" width="37.28" height="28.40" fill="#fef0f1"/>
<rect x="451.41" y="484.55" width="37.28" height="28.40" fill="#fafafd"/>
<rect x="488.64" y="484.55" width="37.28" height="28.40" fill="#fafafd"/>
<rect x="525.88" y="484.55" width="37.28" height="28.40" fill="#fafafd"/>
<rect x="563.11" y="484.55" width="37.28" height="28.40" fill="#fffafa"/>
<rect x="600.35" y="484.55" width="37.28" height="28.40" fill="#eb0a14"/>
<rect x="637.58" y="484.55" width="37.28" height="28.40" fill="#fde6e7"/>
<rect x="674.82" y="484.55" width="37.28" height="28.40" fill="#fde6e7"/>
<rect x="712.05" y="484.55" width="37.28" height="28.40" fill="#fde6e7"/>
<rect x="749.28" y="484.55" width="37.28" height="28.40" fill="#fde6e7"/>
<rect x="786.52" y="484.55" width="37.28" height="28.40" fill="#fde6e7"/>
<rect x="823.75" y="484.55" width="37.28" height="28.40" fill="#fde6e7"/>
<rect x="860.99" y="484.55" width="37.28" height="28.40" fill="#fde6e7"/>
<rect x="898.22" y="484.55" width="37.28" height="28.40" fill="#fffafa"/>
<rect x="935.46" y="484.55" width="37.28" height="28.40" fill="#fbd2d4"/>
<rect x="972.69" y="484.55" width="37.28" height="28.40" fill="#fef0f1"/>
<rect x="1009.92" y="484.55" width="37.28" height="28.40" fill="#e5e5f3"/>
<rect x="1047.16" y="484.55" width="37.28" height="28.40" fill="#fafafd"/>
<rect x="1084.39" y="484.55" width="37.28" height="28.40" fill="#f0f0f8"/>
<rect x="1121.63" y="484.55" width="37.28" height="28.40" fill="#e5e5f3"/>
<rect x="1158.86" y="484.55" width="37.28" height="28.40" fill="#e5e5f3"/>
<rect x="1196.10" y="484.55" width="37.28" height="28.40" fill="#dbdbee"/>
<rect x="1233.33" y="484.55" width="37.28" height="28.40" fill="#fafafd"/>
<rect x="1270.57" y="484.55" width="37.28" height="28.40" fill="#e5e5f3"/>
<rect x="116.30" y="512.90" width="37.28" height="28.40" fill="#e5e5f3"/>
<rect x="153.53" y="512.90" width="37.28" height="28.40" fill="#e5e5f3"/>
<rect x="190.77" y="512.90" width="37.28" height="28.40" fill="#fffafa"/>
<rect x="228.00" y="512.90" width="37.28" height="28.40" fill="#fffafa"/>
<rect x="265.24" y="512.90" width="37.28" height="28.40" fill="#fffafa"/>
<rect x="302.47" y="512.90" width="37.28" height="28.40" fill="#fef0f1"/>
<rect x="339.71" y="512.90" width="37.28" height="28.40" fill="#fef0f1"/>
<rect x="376.94" y="512.90" width="37.28" height="28.40" fill="#fef0f1"/>
<rect x="414.18" y="512.90" width="37.28" height="28.40" fill="#fef0f1"/>
<rect x="451.41" y="512.90" width="37.28" height="28.40" fill="#fafafd"/>
<rect x="488.64" y="512.90" width="37.28" height="28.40" fill="#fafafd"/>
<rect x="525.88" y="512.90" width="37.28" height="28.40" fill="#f0f0f8"/>
<rect x="563.11" y="512.90" width="37.28" height="28.40" fill="#fffafa"/>
<rect x="600.35" y="512.90" width="37.28" height="28.40" fill="#fde6e7"/>
<rect x="637.58" y="512.90" width="37.28" height="28.40" fill="#eb0a14"/>
<rect x="674.82" y="512.90" width="37.28" height="28.40" fill="#fcdcdd"/>
<rect x="712.05" y="512.90" width="37.28" height="28.40" fill="#fde6e7"/>
<rect x="749.28" y="512.90" width="37.28" height="28.40" fill="#fef0f1"/>
<rect x="786.52" y="512.90" width="37.28" height="28.40" fill="#fffafa"/>
<rect x="823.75" y="512.90" width="37.28" height="28.40" fill="#fef0f1"/>
<rect x="860.99" y="512.90" width="37.28" height="28.40" fill="#fef0f1"/>
<rect x="898.22" y="512.90" width="37.28" height="28.40" fill="#fef0f1"/>
<rect x="935.46" y="512.90" width="37.28" height="28.40" fill="#fbd2d4"/>
<rect x="972.69" y="512.90" width="37.28" height="28.40" fill="#fef0f1"/>
<rect x="1009.92" y="512.90" width="37.28" height="28.40" fill="#fef0f1"/>
<rect x="1047.16" y="512.90" width="37.28" height="28.40" fill="#fffafa"/>
<rect x="1084.39" y="512.90" width="37.28" height="28.40" fill="#f0f0f8"/>
<rect x="1121.63" y="512.90" width="37.28" height="28.40" fill="#dbdbee"/>
<rect x="1158.86" y="512.90" width="37.28" height="28.40" fill="#f0f0f8"/>
<rect x="1196.10" y="512.90" width="37.28" height="28.40" fill="#e5e5f3"/>
<rect x="1233.33" y="512.90" width="37.28" height="28.40" fill="#fafafd"/>
<rect x="1270.57" y="512.90" width="37.28" height="28.40" fill="#f0f0f8"/>
<rect x="116.30" y="541.25" width="37.28" height="28.40" fill="#f0f0f8"/>
<rect x="153.53" y="541.25" width="37.28" height="28.40" fill="#e5e5f3"/>
<rect x="190.77" y="541.25" width="37.28" height="28.40" fill="#fffafa"/>
<rect x="228.00" y="541.25" width="37.28" height="28.40" fill="#fffafa"/>
<rect x="265.24" y="541.25" width="37.28" height="28.40" fill="#fffafa"/>
<rect x="302.47" y="541.25" width="37.28" height="28.40" fill="#fef0f1"/>
<rect x="339.71" y="541.25" width="37.28" height="28.40" fill="#fef0f1"/>
<rect x="376.94" y="541.25" width="37.28" height="28.40" fill="#fef0f1"/>
<rect x="414.18" y="541.25" width="37.28" height="28.40" fill="#fef0f1"/>
<rect x="451.41" y="541.25" width="37.28" height="28.40" fill="#fffafa"/>
<rect x="488.64" y="541.25" width="37.28" height="28.40" fill="#fffafa"/>
<rect x="525.88" y="541.25" width="37.28" height="28.40" fill="#fffafa"/>
<rect x="563.11" y="541.25" width="37.28" height="28.40" fill="#fffafa"/>
<rect x="600.35" y="541.25" width="37.28" height="28.40" fill="#fde6e7"/>
<rect x="637.58" y="541.25" width="37.28" height="28.40" fill="#fcdcdd"/>
<rect x="674.82" y="541.25" width="37.28" height="28.40" fill="#eb0a14"/>
<rect x="712.05" y="541.25" width="37.28" height="28.40" fill="#fde6e7"/>
<rect x="749.28" y="541.25" width="37.28" height="28.40" fill="#fef0f1"/>
<rect x="786.52" y="541.25" width="37.28" height="28.40" fill="#fffafa"/>
<rect x="823.75" y="541.25" width="37.28" height="28.40" fill="#fffafa"/>
<rect x="860.99" y="541.25" width="37.28" height="28.40" fill="#fffafa"/>
<rect x="898.22" y="541.25" width="37.28" height="28.40" fill="#fffafa"/>
<rect x="935.46" y="541.25" width="37.28" height="28.40" fill="#fcdcdd"/>
<rect x="972.69" y="541.25" width="37.28" height="28.40" fill="#fffafa"/>
<rect x="1009.92" y="541.25" width="37.28" height="28.40" fill="#fde6e7"/>
<rect x="1047.16" y="541.25" width="37.28" height="28.40" fill="#fef0f1"/>
<rect x="1084.39" y="541.25" width="37.28" height="28.40" fill="#f0f0f8"/>
<rect x="1121.63" y="541.25" width="37.28" height="28.40" fill="#c6c6e4"/>
<rect x="1158.86" y="541.25" width="37.28" height="28.40" fill="#f0f0f8"/>
<rect x="1196.10" y="541.25" width="37.28" height="28.40" fill="#f0f0f8"/>
<rect x="1233.33" y="541.25" width="37.28" height="28.40" fill="#e5e5f3"/>
<rect x="1270.57" y="541.25" width="37.28" height="28.40" fill="#f0f0f8"/>
<rect x="116.30" y="569.60" width="37.28" height="28.40" fill="#d1d1e9"/>
<rect x="153.53" y="569.60" width="37.28" height="28.40" fill="#c6c6e4"/>
<rect x="190.77" y="569.60" width="37.28" height="28.40" fill="#fcdcdd"/>
<rect x="228.00" y="569.60" width="37.28" height="28.40" fill="#fcdcdd"/>
<rect x="265.24" y="569.60" width="37.28" height="28.40" fill="#fcdcdd"/>
<rect x="302.47" y="569.60" width="37.28" height="28.40" fill="#fabec1"/>
<rect x="339.71" y="569.60" width="37.28" height="28.40" fill="#fabec1"/>
<rect x="376.94" y="569.60" width="37.28" height="28.40" fill="#fbd2d4"/>
<rect x="414.18" y="569.60" width="37.28" height="28.40" fill="#fbc8ca"/>
<rect x="451.41" y="569.60" width="37.28" height="28.40" fill="#fcdcdd"/>
<rect x="488.64" y="569.60" width="37.28" height="28.40" fill="#fcdcdd"/>
<rect x="525.88" y="569.60" width="37.28" height="28.40" fill="#fafafd"/>
<rect x="563.11" y="569.60" width="37.28" height="28.40" fill="#fde6e7"/>
<rect x="600.35" y="569.60" width="37.28" height="28.40" fill="#fde6e7"/>
<rect x="637.58" y="569.60" width="37.28" height="28.40" fill="#fde6e7"/>
<rect x="674.82" y="569.60" width="37.28" height="28.40" fill="#fde6e7"/>
<rect x="712.05" y="569.60" width="37.28" height="28.40" fill="#eb0a14"/>
<rect x="749.28" y="569.60" width="37.28" height="28.40" fill="#f15057"/>
<rect x="786.52" y="569.60" width="37.28" height="28.40" fill="#fbc8ca"/>
<rect x="823.75" y="569.60" width="37.28" height="28.40" fill="#fbd2d4"/>
<rect x="860.99" y="569.60" width="37.28" height="28.40" fill="#fbd2d4"/>
<rect x="898.22" y="569.60" width="37.28" height="28.40" fill="#fde6e7"/>
<rect x="935.46" y="569.60" width="37.28" height="28.40" fill="#f8aaad"/>
<rect x="972.69" y="569.60" width="37.28" height="28.40" fill="#fcdcdd"/>
<rect x="1009.92" y="569.60" width="37.28" height="28.40" fill="#fef0f1"/>
<rect x="1047.16" y="569.60" width="37.28" height="28.40" fill="#f0f0f8"/>
<rect x="1084.39" y="569.60" width="37.28" height="28.40" fill="#fef0f1"/>
<rect x="1121.63" y="569.60" width="37.28" height="28.40" fill="#dbdbee"/>
<rect x="1158.86" y="569.60" width="37.28" height="28.40" fill="#dbdbee"/>
<rect x="1196.10" y="569.60" width="37.28" height="28.40" fill="#bcbcdf"/>
<rect x="1233.33" y="569.60" width="37.28" height="28.40" fill="#e5e5f3"/>
<rect x="1270.57" y="569.60" width="37.28" height="28.40" fill="#e5e5f3"/>
<rect x="116.30" y="597.95" width="37.28" height="28.40" fill="#d1d1e9"/>
<rect x="153.53" y="597.95" width="37.28" height="28.40" fill="#d1d1e9"/>
<rect x="190.77" y="597.95" width="37.28" height="28.40" fill="#fcdcdd"/>
<rect x="228.00" y="597.95" width="37.28" height="28.40" fill="#fcdcdd"/>
<rect x="265.24" y="597.95" width="37.28" height="28.40" fill="#fcdcdd"/>
<rect x="302.47" y="597.95" width="37.28" height="28.40" fill="#fbc8ca"/>
<rect x="339.71" y="597.95" width="37.28" height="28.40" fill="#fbc8ca"/>
<rect x="376.94" y="597.95" width="37.28" height="28.40" fill="#fcdcdd"/>
<rect x="414.18" y="597.95" width="37.28" height="28.40" fill="#fbd2d4"/>
<rect x="451.41" y="597.95" width="37.28" height="28.40" fill="#fef0f1"/>
<rect x="488.64" y="597.95" width="37.28" height="28.40" fill="#fde6e7"/>
<rect x="525.88" y="597.95" width="37.28" height="28.40" fill="#fffafa"/>
<rect x="563.11" y="597.95" width="37.28" height="28.40" fill="#fef0f1"/>
<rect x="600.35" y="597.95" width="37.28" height="28.40" fill="#fde6e7"/>
<rect x="637.58" y="597.95" width="37.28" height="28.40" fill="#fef0f1"/>
<rect x="674.82" y="597.95" width="37.28" height="28.40" fill="#fef0f1"/>
<rect x="712.05" y="597.95" width="37.28" height="28.40" fill="#f15057"/>
<rect x="749.28" y="597.95" width="37.28" height="28.40" fill="#eb0a14"/>
<rect x="786.52" y="597.95" width="37.28" height="28.40" fill="#fbd2d4"/>
<rect x="823.75" y="597.95" width="37.28" height="28.40" fill="#fde6e7"/>
<rect x="860.99" y="597.95" width="37.28" height="28.40" fill="#fcdcdd"/>
<rect x="898.22" y="597.95" width="37.28" height="28.40" fill="#fcdcdd"/>
<rect x="935.46" y="597.95" width="37.28" height="28.40" fill="#fabec1"/>
<rect x="972.69" y="597.95" width="37.28" height="28.40" fill="#fef0f1"/>
<rect x="1009.92" y="597.95" width="37.28" height="28.40" fill="#fffafa"/>
<rect x="1047.16" y="597.95" width="37.28" height="28.40" fill="#fafafd"/>
<rect x="1084.39" y="597.95" width="37.28" height="28.40" fill="#f0f0f8"/>
<rect x="1121.63" y="597.95" width="37.28" height="28.40" fill="#e5e5f3"/>
<rect x="1158.86" y="597.95" width="37.28" height="28.40" fill="#e5e5f3"/>
<rect x="1196.10" y="597.95" width="37.28" height="28.40" fill="#c6c6e4"/>
<rect x="1233.33" y="597.95" width="37.28" height="28.40" fill="#f0f0f8"/>
<rect x="1270.57" y="597.95" width="37.28" height="28.40" fill="#f0f0f8"/>
<rect x="116.30" y="626.30" width="37.28" height="28.40" fill="#bcbcdf"/>
<rect x="153.53" y="626.30" width="37.28" height="28.40" fill="#dbdbee"/>
<rect x="190.77" y="626.30" width="37.28" height="28.40" fill="#f0f0f8"/>
<rect x="228.00" y="626.30" width="37.28" height="28.40" fill="#fafafd"/>
<rect x="265.24" y="626.30" width="37.28" height="28.40" fill="#e5e5f3"/>
<rect x="302.47" y="626.30" width="37.28" height="28.40" fill="#fafafd"/>
<rect x="339.71" y="626.30" width="37.28" height="28.40" fill="#fafafd"/>
<rect x="376.94" y="626.30" width="37.28" height="28.40" fill="#fef0f1"/>
<rect x="414.18" y="626.30" width="37.28" height="28.40" fill="#fcdcdd"/>
<rect x="451.41" y="626.30" width="37.28" height="28.40" fill="#dbdbee"/>
<rect x="488.64" y="626.30" width="37.28" height="28.40" fill="#e5e5f3"/>
<rect x="525.88" y="626.30" width="37.28" height="28.40" fill="#fcdcdd"/>
<rect x="563.11" y="626.30" width="37.28" height="28.40" fill="#fffafa"/>
<rect x="600.35" y="626.30" width="37.28" height="28.40" fill="#fde6e7"/>
<rect x="637.58" y="626.30" width="37.28" height="28.40" fill="#fffafa"/>
<rect x="674.82" y="626.30" width="37.28" height="28.40" fill="#fffafa"/>
<rect x="712.05" y="626.30" width="37.28" height="28.40" fill="#fbc8ca"/>
<rect x="749.28" y="626.30" width="37.28" height="28.40" fill="#fbd2d4"/>
<rect x="786.52" y="626.30" width="37.28" height="28.40" fill="#eb0a14"/>
<rect x="823.75" y="626.30" width="37.28" height="28.40" fill="#fef0f1"/>
<rect x="860.99" y="626.30" width="37.28" height="28.40" fill="#fbc8ca"/>
<rect x="898.22" y="626.30" width="37.28" height="28.40" fill="#fffafa"/>
<rect x="935.46" y="626.30" width="37.28" height="28.40" fill="#fabec1"/>
<rect x="972.69" y="626.30" width="37.28" height="28.40" fill="#fef0f1"/>
<rect x="1009.92" y="626.30" width="37.28" height="28.40" fill="#d1d1e9"/>
<rect x="1047.16" y="626.30" width="37.28" height="28.40" fill="#e5e5f3"/>
<rect x="1084.39" y="626.30" width="37.28" height="28.40" fill="#fafafd"/>
<rect x="1121.63" y="626.30" width="37.28" height="28.40" fill="#f0f0f8"/>
<rect x="1158.86" y="626.30" width="37.28" height="28.40" fill="#b2b2db"/>
<rect x="1196.10" y="626.30" width="37.28" height="28.40" fill="#b2b2db"/>
<rect x="1233.33" y="626.30" width="37.28" height="28.40" fill="#b2b2db"/>
<rect x="1270.57" y="626.30" width="37.28" height="28.40" fill="#b2b2db"/>
<rect x="116.30" y="654.65" width="37.28" height="28.40" fill="#dbdbee"/>
<rect x="153.53" y="654.65" width="37.28" height="28.40" fill="#dbdbee"/>
<rect x="190.77" y="654.65" width="37.28" height="28.40" fill="#fffafa"/>
<rect x="228.00" y="654.65" width="37.28" height="28.40" fill="#fffafa"/>
<rect x="265.24" y="654.65" width="37.28" height="28.40" fill="#fffafa"/>
<rect x="302.47" y="654.65" width="37.28" height="28.40" fill="#fef0f1"/>
<rect x="339.71" y="654.65" width="37.28" height="28.40" fill="#fde6e7"/>
<rect x="376.94" y="654.65" width="37.28" height="28.40" fill="#fde6e7"/>
<rect x="414.18" y="654.65" width="37.28" height="28.40" fill="#fcdcdd"/>
<rect x="451.41" y="654.65" width="37.28" height="28.40" fill="#fef0f1"/>
<rect x="488.64" y="654.65" width="37.28" height="28.40" fill="#fef0f1"/>
<rect x="525.88" y="654.65" width="37.28" height="28.40" fill="#fafafd"/>
<rect x="563.11" y="654.65" width="37.28" height="28.40" fill="#fde6e7"/>
<rect x="600.35" y="654.65" width="37.28" height="28.40" fill="#fde6e7"/>
<rect x="637.58" y="654.65" width="37.28" height="28.40" fill="#fef0f1"/>
<rect x="674.82" y="654.65" width="37.28" height="28.40" fill="#fffafa"/>
<rect x="712.05" y="654.65" width="37.28" height="28.40" fill="#fbd2d4"/>
<rect x="749.28" y="654.65" width="37.28" height="28.40" fill="#fde6e7"/>
<rect x="786.52" y="654.65" width="37.28" height="28.40" fill="#fef0f1"/>
<rect x="823.75" y="654.65" width="37.28" height="28.40" fill="#eb0a14"/>
<rect x="860.99" y="654.65" width="37.28" height="28.40" fill="#fcdcdd"/>
<rect x="898.22" y="654.65" width="37.28" height="28.40" fill="#fef0f1"/>
<rect x="935.46" y="654.65" width="37.28" height="28.40" fill="#fbd2d4"/>
<rect x="972.69" y="654.65" width="37.28" height="28.40" fill="#fde6e7"/>
<rect x="1009.92" y="654.65" width="37.28" height="28.40" fill="#fafafd"/>
<rect x="1047.16" y="654.65" width="37.28" height="28.40" fill="#fffafa"/>
<rect x="1084.39" y="654.65" width="37.28" height="28.40" fill="#fafafd"/>
<rect x="1121.63" y="654.65" width="37.28" height="28.40" fill="#dbdbee"/>
<rect x="1158.86" y="654.65" width="37.28" height="28.40" fill="#fafafd"/>
<rect x="1196.10" y="654.65" width="37.28" height="28.40" fill="#dbdbee"/>
<rect x="1233.33" y="654.65" width="37.28" height="28.40" fill="#f0f0f8"/>
<rect x="1270.57" y="654.65" width="37.28" height="28.40" fill="#e5e5f3"/>
<rect x="116.30" y="683.00" width="37.28" height="28.40" fill="#d1d1e9"/>
<rect x="153.53" y="683.00" width="37.28" height="28.40" fill="#d1d1e9"/>
<rect x="190.77" y="683.00" width="37.28" height="28.40" fill="#f0f0f8"/>
<rect x="228.00" y="683.00" width="37.28" height="28.40" fill="#f0f0f8"/>
<rect x="265.24" y="683.00" width="37.28" height="28.40" fill="#fafafd"/>
<rect x="302.47" y="683.00" width="37.28" height="28.40" fill="#fffafa"/>
<rect x="339.71" y="683.00" width="37.28" height="28.40" fill="#fffafa"/>
<rect x="376.94" y="683.00" width="37.28" height="28.40" fill="#fde6e7"/>
<rect x="414.18" y="683.00" width="37.28" height="28.40" fill="#fcdcdd"/>
<rect x="451.41" y="683.00" width="37.28" height="28.40" fill="#fffafa"/>
<rect x="488.64" y="683.00" width="37.28" height="28.40" fill="#fffafa"/>
<rect x="525.88" y="683.00" width="37.28" height="28.40" fill="#fffafa"/>
<rect x="563.11" y="683.00" width="37.28" height="28.40" fill="#fffafa"/>
<rect x="600.35" y="683.00" width="37.28" height="28.40" fill="#fde6e7"/>
<rect x="637.58" y="683.00" width="37.28" height="28.40" fill="#fef0f1"/>
<rect x="674.82" y="683.00" width="37.28" height="28.40" fill="#fffafa"/>
<rect x="712.05" y="683.00" width="37.28" height="28.40" fill="#fbd2d4"/>
<rect x="749.28" y="683.00" width="37.28" height="28.40" fill="#fcdcdd"/>
<rect x="786.52" y="683.00" width="37.28" height="28.40" fill="#fbc8ca"/>
<rect x="823.75" y="683.00" width="37.28" height="28.40" fill="#fcdcdd"/>
<rect x="860.99" y="683.00" width="37.28" height="28.40" fill="#eb0a14"/>
<rect x="898.22" y="683.00" width="37.28" height="28.40" fill="#fef0f1"/>
<rect x="935.46" y="683.00" width="37.28" height="28.40" fill="#fbc8ca"/>
<rect x="972.69" y="683.00" width="37.28" height="28.40" fill="#fde6e7"/>
<rect x="1009.92" y="683.00" width="37.28" height="28.40" fill="#f0f0f8"/>
<rect x="1047.16" y="683.00" width="37.28" height="28.40" fill="#fafafd"/>
<rect x="1084.39" y="683.00" width="37.28" height="28.40" fill="#f0f0f8"/>
<rect x="1121.63" y="683.00" width="37.28" height="28.40" fill="#f0f0f8"/>
<rect x="1158.86" y="683.00" width="37.28" height="28.40" fill="#fafafd"/>
<rect x="1196.10" y="683.00" width="37.28" height="28.40" fill="#d1d1e9"/>
<rect x="1233.33" y="683.00" width="37.28" height="28.40" fill="#dbdbee"/>
<rect x="1270.57" y="683.00" width="37.28" height="28.40" fill="#e5e5f3"/>
<rect x="116.30" y="711.35" width="37.28" height="28.40" fill="#e5e5f3"/>
<rect x="153.53" y="711.35" width="37.28" height="28.40" fill="#f0f0f8"/>
<rect x="190.77" y="711.35" width="37.28" height="28.40" fill="#f0f0f8"/>
<rect x="228.00" y="711.35" width="37.28" height="28.40" fill="#f0f0f8"/>
<rect x="265.24" y="711.35" width="37.28" height="28.40" fill="#f0f0f8"/>
<rect x="302.47" y="711.35" width="37.28" height="28.40" fill="#fffafa"/>
<rect x="339.71" y="711.35" width="37.28" height="28.40" fill="#fef0f1"/>
<rect x="376.94" y="711.35" width="37.28" height="28.40" fill="#fffafa"/>
<rect x="414.18" y="711.35" width="37.28" height="28.40" fill="#fffafa"/>
<rect x="451.41" y="711.35" width="37.28" height="28.40" fill="#f0f0f8"/>
<rect x="488.64" y="711.35" width="37.28" height="28.40" fill="#f0f0f8"/>
<rect x="525.88" y="711.35" width="37.28" height="28.40" fill="#fcdcdd"/>
<rect x="563.11" y="711.35" width="37.28" height="28.40" fill="#fffafa"/>
<rect x="600.35" y="711.35" width="37.28" height="28.40" fill="#fffafa"/>
<rect x="637.58" y="711.35" width="37.28" height="28.40" fill="#fef0f1"/>
<rect x="674.82" y="711.35" width="37.28" height="28.40" fill="#fffafa"/>
<rect x="712.05" y="711.35" width="37.28" height="28.40" fill="#fde6e7"/>
<rect x="749.28" y="711.35" width="37.28" height="28.40" fill="#fcdcdd"/>
<rect x="786.52" y="711.35" width="37.28" height="28.40" fill="#fffafa"/>
<rect x="823.75" y="711.35" width="37.28" height="28.40" fill="#fef0f1"/>
<rect x="860.99" y="711.35" width="37.28" height="28.40" fill="#fef0f1"/>
<rect x="898.22" y="711.35" width="37.28" height="28.40" fill="#eb0a14"/>
<rect x="935.46" y="711.35" width="37.28" height="28.40" fill="#fbd2d4"/>
<rect x="972.69" y="711.35" width="37.28" height="28.40" fill="#fbd2d4"/>
<rect x="1009.92" y="711.35" width="37.28" height="28.40" fill="#f0f0f8"/>
<rect x="1047.16" y="711.35" width="37.28" height="28.40" fill="#fffafa"/>
<rect x="1084.39" y="711.35" width="37.28" height="28.40" fill="#f0f0f8"/>
<rect x="1121.63" y="711.35" width="37.28" height="28.40" fill="#e5e5f3"/>
<rect x="1158.86" y="711.35" width="37.28" height="28.40" fill="#e5e5f3"/>
<rect x="1196.10" y="711.35" width="37.28" height="28.40" fill="#dbdbee"/>
<rect x="1233.33" y="711.35" width="37.28" height="28.40" fill="#f0f0f8"/>
<rect x="1270.57" y="711.35" width="37.28" height="28.40" fill="#f0f0f8"/>
<rect x="116.30" y="739.70" width="37.28" height="28.40" fill="#d1d1e9"/>
<rect x="153.53" y="739.70" width="37.28" height="28.40" fill="#c6c6e4"/>
<rect x="190.77" y="739.70" width="37.28" height="28.40" fill="#fcdcdd"/>
<rect x="228.00" y="739.70" width="37.28" height="28.40" fill="#fcdcdd"/>
<rect x="265.24" y="739.70" width="37.28" height="28.40" fill="#fcdcdd"/>
<rect x="302.47" y="739.70" width="37.28" height="28.40" fill="#f7a0a4"/>
<rect x="339.71" y="739.70" width="37.28" height="28.40" fill="#f7a0a4"/>
<rect x="376.94" y="739.70" width="37.28" height="28.40" fill="#fde6e7"/>
<rect x="414.18" y="739.70" width="37.28" height="28.40" fill="#fbd2d4"/>
<rect x="451.41" y="739.70" width="37.28" height="28.40" fill="#fffafa"/>
<rect x="488.64" y="739.70" width="37.28" height="28.40" fill="#fef0f1"/>
<rect x="525.88" y="739.70" width="37.28" height="28.40" fill="#fef0f1"/>
<rect x="563.11" y="739.70" width="37.28" height="28.40" fill="#fef0f1"/>
<rect x="600.35" y="739.70" width="37.28" height="28.40" fill="#fbd2d4"/>
<rect x="637.58" y="739.70" width="37.28" height="28.40" fill="#fbd2d4"/>
<rect x="674.82" y="739.70" width="37.28" height="28.40" fill="#fcdcdd"/>
<rect x="712.05" y="739.70" width="37.28" height="28.40" fill="#f8aaad"/>
<rect x="749.28" y="739.70" width="37.28" height="28.40" fill="#fabec1"/>
<rect x="786.52" y="739.70" width="37.28" height="28.40" fill="#fabec1"/>
<rect x="823.75" y="739.70" width="37.28" height="28.40" fill="#fbd2d4"/>
<rect x="860.99" y="739.70" width="37.28" height="28.40" fill="#fbc8ca"/>
<rect x="898.22" y="739.70" width="37.28" height="28.40" fill="#fbd2d4"/>
<rect x="935.46" y="739.70" width="37.28" height="28.40" fill="#eb0a14"/>
<rect x="972.69" y="739.70" width="37.28" height="28.40" fill="#f6969a"/>
<rect x="1009.92" y="739.70" width="37.28" height="28.40" fill="#f0f0f8"/>
<rect x="1047.16" y="739.70" width="37.28" height="28.40" fill="#fafafd"/>
<rect x="1084.39" y="739.70" width="37.28" height="28.40" fill="#fef0f1"/>
<rect x="1121.63" y="739.70" width="37.28" height="28.40" fill="#bcbcdf"/>
<rect x="1158.86" y="739.70" width="37.28" height="28.40" fill="#c6c6e4"/>
<rect x="1196.10" y="739.70" width="37.28" height="28.40" fill="#a7a7d6"/>
<rect x="1233.33" y="739.70" width="37.28" height="28.40" fill="#d1d1e9"/>
<rect x="1270.57" y="739.70" width="37.28" height="28.40" fill="#dbdbee"/>
<rect x="116.30" y="768.05" width="37.28" height="28.40" fill="#f0f0f8"/>
<rect x="153.53" y="768.05" width="37.28" height="28.40" fill="#f0f0f8"/>
<rect x="190.77" y="768.05" width="37.28" height="28.40" fill="#e5e5f3"/>
<rect x="228.00" y="768.05" width="37.28" height="28.40" fill="#dbdbee"/>
<rect x="265.24" y="768.05" width="37.28" height="28.40" fill="#e5e5f3"/>
<rect x="302.47" y="768.05" width="37.28" height="28.40" fill="#fde6e7"/>
<rect x="339.71" y="768.05" width="37.28" height="28.40" fill="#fbd2d4"/>
<rect x="376.94" y="768.05" width="37.28" height="28.40" fill="#fafafd"/>
<rect x="414.18" y="768.05" width="37.28" height="28.40" fill="#fffafa"/>
<rect x="451.41" y="768.05" width="37.28" height="28.40" fill="#fafafd"/>
<rect x="488.64" y="768.05" width="37.28" height="28.40" fill="#fafafd"/>
<rect x="525.88" y="768.05" width="37.28" height="28.40" fill="#f0f0f8"/>
<rect x="563.11" y="768.05" width="37.28" height="28.40" fill="#fafafd"/>
<rect x="600.35" y="768.05" width="37.28" height="28.40" fill="#fef0f1"/>
<rect x="637.58" y="768.05" width="37.28" height="28.40" fill="#fef0f1"/>
<rect x="674.82" y="768.05" width="37.28" height="28.40" fill="#fffafa"/>
<rect x="712.05" y="768.05" width="37.28" height="28.40" fill="#fcdcdd"/>
<rect x="749.28" y="768.05" width="37.28" height="28.40" fill="#fef0f1"/>
<rect x="786.52" y="768.05" width="37.28" height="28.40" fill="#fef0f1"/>
<rect x="823.75" y="768.05" width="37.28" height="28.40" fill="#fde6e7"/>
<rect x="860.99" y="768.05" width="37.28" height="28.40" fill="#fde6e7"/>
<rect x="898.22" y="768.05" width="37.28" height="28.40" fill="#fbd2d4"/>
<rect x="935.46" y="768.05" width="37.28" height="28.40" fill="#f6969a"/>
<rect x="972.69" y="768.05" width="37.28" height="28.40" fill="#eb0a14"/>
<rect x="1009.92" y="768.05" width="37.28" height="28.40" fill="#f0f0f8"/>
<rect x="1047.16" y="768.05" width="37.28" height="28.40" fill="#fef0f1"/>
<rect x="1084.39" y="768.05" width="37.28" height="28.40" fill="#fffafa"/>
<rect x="1121.63" y="768.05" width="37.28" height="28.40" fill="#d1d1e9"/>
<rect x="1158.86" y="768.05" width="37.28" height="28.40" fill="#e5e5f3"/>
<rect x="1196.10" y="768.05" width="37.28" height="28.40" fill="#a7a7d6"/>
<rect x="1233.33" y="768.05" width="37.28" height="28.40" fill="#f0f0f8"/>
<rect x="1270.57" y="768.05" width="37.28" height="28.40" fill="#f0f0f8"/>
<rect x="116.30" y="796.40" width="37.28" height="28.40" fill="#fafafd"/>
<rect x="153.53" y="796.40" width="37.28" height="28.40" fill="#d1d1e9"/>
<rect x="190.77" y="796.40" width="37.28" height="28.40" fill="#fbd2d4"/>
<rect x="228.00" y="796.40" width="37.28" height="28.40" fill="#fbd2d4"/>
<rect x="265.24" y="796.40" width="37.28" height="28.40" fill="#fbd2d4"/>
<rect x="302.47" y="796.40" width="37.28" height="28.40" fill="#fbd2d4"/>
<rect x="339.71" y="796.40" width="37.28" height="28.40" fill="#fbc8ca"/>
<rect x="376.94" y="796.40" width="37.28" height="28.40" fill="#fbd2d4"/>
<rect x="414.18" y="796.40" width="37.28" height="28.40" fill="#fcdcdd"/>
<rect x="451.41" y="796.40" width="37.28" height="28.40" fill="#f9b4b7"/>
<rect x="488.64" y="796.40" width="37.28" height="28.40" fill="#f9b4b7"/>
<rect x="525.88" y="796.40" width="37.28" height="28.40" fill="#fffafa"/>
<rect x="563.11" y="796.40" width="37.28" height="28.40" fill="#fffafa"/>
<rect x="600.35" y="796.40" width="37.28" height="28.40" fill="#e5e5f3"/>
<rect x="637.58" y="796.40" width="37.28" height="28.40" fill="#fef0f1"/>
<rect x="674.82" y="796.40" width="37.28" height="28.40" fill="#fde6e7"/>
<rect x="712.05" y="796.40" width="37.28" height="28.40" fill="#fef0f1"/>
<rect x="749.28" y="796.40" width="37.28" height="28.40" fill="#fffafa"/>
<rect x="786.52" y="796.40" width="37.28" height="28.40" fill="#d1d1e9"/>
<rect x="823.75" y="796.40" width="37.28" height="28.40" fill="#fafafd"/>
<rect x="860.99" y="796.40" width="37.28" height="28.40" fill="#f0f0f8"/>
<rect x="898.22" y="796.40" width="37.28" height="28.40" fill="#f0f0f8"/>
<rect x="935.46" y="796.40" width="37.28" height="28.40" fill="#f0f0f8"/>
<rect x="972.69" y="796.40" width="37.28" height="28.40" fill="#f0f0f8"/>
<rect x="1009.92" y="796.40" width="37.28" height="28.40" fill="#eb0a14"/>
<rect x="1047.16" y="796.40" width="37.28" height="28.40" fill="#fef0f1"/>
<rect x="1084.39" y="796.40" width="37.28" height="28.40" fill="#f0f0f8"/>
<rect x="1121.63" y="796.40" width="37.28" height="28.40" fill="#e5e5f3"/>
<rect x="1158.86" y="796.40" width="37.28" height="28.40" fill="#fffafa"/>
<rect x="1196.10" y="796.40" width="37.28" height="28.40" fill="#fffafa"/>
<rect x="1233.33" y="796.40" width="37.28" height="28.40" fill="#fffafa"/>
<rect x="1270.57" y="796.40" width="37.28" height="28.40" fill="#fafafd"/>
<rect x="116.30" y="824.75" width="37.28" height="28.40" fill="#fef0f1"/>
<rect x="153.53" y="824.75" width="37.28" height="28.40" fill="#fffafa"/>
<rect x="190.77" y="824.75" width="37.28" height="28.40" fill="#fafafd"/>
<rect x="228.00" y="824.75" width="37.28" height="28.40" fill="#fffafa"/>
<rect x="265.24" y="824.75" width="37.28" height="28.40" fill="#fffafa"/>
<rect x="302.47" y="824.75" width="37.28" height="28.40" fill="#fffafa"/>
<rect x="339.71" y="824.75" width="37.28" height="28.40" fill="#fef0f1"/>
<rect x="376.94" y="824.75" width="37.28" height="28.40" fill="#fafafd"/>
<rect x="414.18" y="824.75" width="37.28" height="28.40" fill="#f0f0f8"/>
<rect x="451.41" y="824.75" width="37.28" height="28.40" fill="#fef0f1"/>
<rect x="488.64" y="824.75" width="37.28" height="28.40" fill="#fffafa"/>
<rect x="525.88" y="824.75" width="37.28" height="28.40" fill="#fafafd"/>
<rect x="563.11" y="824.75" width="37.28" height="28.40" fill="#fafafd"/>
<rect x="600.35" y="824.75" width="37.28" height="28.40" fill="#fafafd"/>
<rect x="637.58" y="824.75" width="37.28" height="28.40" fill="#fffafa"/>
<rect x="674.82" y="824.75" width="37.28" height="28.40" fill="#fef0f1"/>
<rect x="712.05" y="824.75" width="37.28" height="28.40" fill="#f0f0f8"/>
<rect x="749.28" y="824.75" width="37.28" height="28.40" fill="#fafafd"/>
<rect x="786.52" y="824.75" width="37.28" height="28.40" fill="#e5e5f3"/>
<rect x="823.75" y="824.75" width="37.28" height="28.40" fill="#fffafa"/>
<rect x="860.99" y="824.75" width="37.28" height="28.40" fill="#fafafd"/>
<rect x="898.22" y="824.75" width="37.28" height="28.40" fill="#fffafa"/>
<rect x="935.46" y="824.75" width="37.28" height="28.40" fill="#fafafd"/>
<rect x="972.69" y="824.75" width="37.28" height="28.40" fill="#fef0f1"/>
<rect x="1009.92" y="824.75" width="37.28" height="28.40" fill="#fef0f1"/>
<rect x="1047.16" y="824.75" width="37.28" height="28.40" fill="#eb0a14"/>
<rect x="1084.39" y="824.75" width="37.28" height="28.40" fill="#fafafd"/>
<rect x="1121.63" y="824.75" width="37.28" height="28.40" fill="#e5e5f3"/>
<rect x="1158.86" y="824.75" width="37.28" height="28.40" fill="#f0f0f8"/>
<rect x="1196.10" y="824.75" width="37.28" height="28.40" fill="#f0f0f8"/>
<rect x="1233.33" y="824.75" width="37.28" height="28.40" fill="#fafafd"/>
<rect x="1270.57" y="824.75" width="37.28" height="28.40" fill="#fef0f1"/>
<rect x="116.30" y="853.10" width="37.28" height="28.40" fill="#fafafd"/>
<rect x="153.53" y="853.10" width="37.28" height="28.40" fill="#fffafa"/>
<rect x="190.77" y="853.10" width="37.28" height="28.40" fill="#fafafd"/>
<rect x="228.00" y="853.10" width="37.28" height="28.40" fill="#fafafd"/>
<rect x="265.24" y="853.10" width="37.28" height="28.40" fill="#f0f0f8"/>
<rect x="302.47" y="853.10" width="37.28" height="28.40" fill="#fffafa"/>
<rect x="339.71" y="853.10" width="37.28" height="28.40" fill="#f0f0f8"/>
<rect x="376.94" y="853.10" width="37.28" height="28.40" fill="#f0f0f8"/>
<rect x="414.18" y="853.10" width="37.28" height="28.40" fill="#f0f0f8"/>
<rect x="451.41" y="853.10" width="37.28" height="28.40" fill="#f0f0f8"/>
<rect x="488.64" y="853.10" width="37.28" height="28.40" fill="#f0f0f8"/>
<rect x="525.88" y="853.10" width="37.28" height="28.40" fill="#f0f0f8"/>
<rect x="563.11" y="853.10" width="37.28" height="28.40" fill="#f0f0f8"/>
<rect x="600.35" y="853.10" width="37.28" height="28.40" fill="#f0f0f8"/>
<rect x="637.58" y="853.10" width="37.28" height="28.40" fill="#f0f0f8"/>
<rect x="674.82" y="853.10" width="37.28" height="28.40" fill="#f0f0f8"/>
<rect x="712.05" y="853.10" width="37.28" height="28.40" fill="#fef0f1"/>
<rect x="749.28" y="853.10" width="37.28" height="28.40" fill="#f0f0f8"/>
<rect x="786.52" y="853.10" width="37.28" height="28.40" fill="#fafafd"/>
<rect x="823.75" y="853.10" width="37.28" height="28.40" fill="#fafafd"/>
<rect x="860.99" y="853.10" width="37.28" height="28.40" fill="#f0f0f8"/>
<rect x="898.22" y="853.10" width="37.28" height="28.40" fill="#f0f0f8"/>
<rect x="935.46" y="853.10" width="37.28" height="28.40" fill="#fef0f1"/>
<rect x="972.69" y="853.10" width="37.28" height="28.40" fill="#fffafa"/>
<rect x="1009.92" y="853.10" width="37.28" height="28.40" fill="#f0f0f8"/>
<rect x="1047.16" y="853.10" width="37.28" height="28.40" fill="#fafafd"/>
<rect x="1084.39" y="853.10" width="37.28" height="28.40" fill="#eb0a14"/>
<rect x="1121.63" y="853.10" width="37.28" height="28.40" fill="#fafafd"/>
<rect x="1158.86" y="853.10" width="37.28" height="28.40" fill="#f0f0f8"/>
<rect x="1196.10" y="853.10" width="37.28" height="28.40" fill="#fffafa"/>
<rect x="1233.33" y="853.10" width="37.28" height="28.40" fill="#fafafd"/>
<rect x="1270.57" y="853.10" width="37.28" height="28.40" fill="#fffafa"/>
<rect x="116.30" y="881.45" width="37.28" height="28.40" fill="#fffafa"/>
<rect x="153.53" y="881.45" width="37.28" height="28.40" fill="#fef0f1"/>
<rect x="190.77" y="881.45" width="37.28" height="28.40" fill="#e5e5f3"/>
<rect x="228.00" y="881.45" width="37.28" height="28.40" fill="#f0f0f8"/>
<rect x="265.24" y="881.45" width="37.28" height="28.40" fill="#f0f0f8"/>
<rect x="302.47" y="881.45" width="37.28" height="28.40" fill="#dbdbee"/>
<rect x="339.71" y="881.45" width="37.28" height="28.40" fill="#d1d1e9"/>
<rect x="376.94" y="881.45" width="37.28" height="28.40" fill="#e5e5f3"/>
<rect x="414.18" y="881.45" width="37.28" height="28.40" fill="#e5e5f3"/>
<rect x="451.41" y="881.45" width="37.28" height="28.40" fill="#e5e5f3"/>
<rect x="488.64" y="881.45" width="37.28" height="28.40" fill="#e5e5f3"/>
<rect x="525.88" y="881.45" width="37.28" height="28.40" fill="#fafafd"/>
<rect x="563.11" y="881.45" width="37.28" height="28.40" fill="#e5e5f3"/>
<rect x="600.35" y="881.45" width="37.28" height="28.40" fill="#e5e5f3"/>
<rect x="637.58" y="881.45" width="37.28" height="28.40" fill="#dbdbee"/>
<rect x="674.82" y="881.45" width="37.28" height="28.40" fill="#c6c6e4"/>
<rect x="712.05" y="881.45" width="37.28" height="28.40" fill="#dbdbee"/>
<rect x="749.28" y="881.45" width="37.28" height="28.40" fill="#e5e5f3"/>
<rect x="786.52" y="881.45" width="37.28" height="28.40" fill="#f0f0f8"/>
<rect x="823.75" y="881.45" width="37.28" height="28.40" fill="#dbdbee"/>
<rect x="860.99" y="881.45" width="37.28" height="28.40" fill="#f0f0f8"/>
<rect x="898.22" y="881.45" width="37.28" height="28.40" fill="#e5e5f3"/>
<rect x="935.46" y="881.45" width="37.28" height="28.40" fill="#bcbcdf"/>
<rect x="972.69" y="881.45" width="37.28" height="28.40" fill="#d1d1e9"/>
<rect x="1009.92" y="881.45" width="37.28" height="28.40" fill="#e5e5f3"/>
<rect x="1047.16" y="881.45" width="37.28" height="28.40" fill="#e5e5f3"/>
<rect x="1084.39" y="881.45" width="37.28" height="28.40" fill="#fafafd"/>
<rect x="1121.63" y="881.45" width="37.28" height="28.40" fill="#eb0a14"/>
<rect x="1158.86" y="881.45" width="37.28" height="28.40" fill="#fafafd"/>
<rect x="1196.10" y="881.45" width="37.28" height="28.40" fill="#fffafa"/>
<rect x="1233.33" y="881.45" width="37.28" height="28.40" fill="#fafafd"/>
<rect x="1270.57" y="881.45" width="37.28" height="28.40" fill="#fffafa"/>
<rect x="116.30" y="909.80" width="37.28" height="28.40" fill="#fafafd"/>
<rect x="153.53" y="909.80" width="37.28" height="28.40" fill="#fafafd"/>
<rect x="190.77" y="909.80" width="37.28" height="28.40" fill="#fafafd"/>
<rect x="228.00" y="909.80" width="37.28" height="28.40" fill="#f0f0f8"/>
<rect x="265.24" y="909.80" width="37.28" height="28.40" fill="#fffafa"/>
<rect x="302.47" y="909.80" width="37.28" height="28.40" fill="#fafafd"/>
<rect x="339.71" y="909.80" width="37.28" height="28.40" fill="#f0f0f8"/>
<rect x="376.94" y="909.80" width="37.28" height="28.40" fill="#fafafd"/>
<rect x="414.18" y="909.80" width="37.28" height="28.40" fill="#fafafd"/>
<rect x="451.41" y="909.80" width="37.28" height="28.40" fill="#fafafd"/>
<rect x="488.64" y="909.80" width="37.28" height="28.40" fill="#fafafd"/>
<rect x="525.88" y="909.80" width="37.28" height="28.40" fill="#bcbcdf"/>
<rect x="563.11" y="909.80" width="37.28" height="28.40" fill="#fafafd"/>
<rect x="600.35" y="909.80" width="37.28" height="28.40" fill="#e5e5f3"/>
<rect x="637.58" y="909.80" width="37.28" height="28.40" fill="#f0f0f8"/>
<rect x="674.82" y="909.80" width="37.28" height="28.40" fill="#f0f0f8"/>
<rect x="712.05" y="909.80" width="37.28" height="28.40" fill="#dbdbee"/>
<rect x="749.28" y="909.80" width="37.28" height="28.40" fill="#e5e5f3"/>
<rect x="786.52" y="909.80" width="37.28" height="28.40" fill="#b2b2db"/>
<rect x="823.75" y="909.80" width="37.28" height="28.40" fill="#fafafd"/>
<rect x="860.99" y="909.80" width="37.28" height="28.40" fill="#fafafd"/>
<rect x="898.22" y="909.80" width="37.28" height="28.40" fill="#e5e5f3"/>
<rect x="935.46" y="909.80" width="37.28" height="28.40" fill="#c6c6e4"/>
<rect x="972.69" y="909.80" width="37.28" height="28.40" fill="#e5e5f3"/>
<rect x="1009.92" y="909.80" width="37.28" height="28.40" fill="#fffafa"/>
<rect x="1047.16" y="909.80" width="37.28" height="28.40" fill="#f0f0f8"/>
<rect x="1084.39" y="909.80" width="37.28" height="28.40" fill="#f0f0f8"/>
<rect x="1121.63" y="909.80" width="37.28" height="28.40" fill="#fafafd"/>
<rect x="1158.86" y="909.80" width="37.28" height="28.40" fill="#eb0a14"/>
<rect x="1196.10" y="909.80" width="37.28" height="28.40" fill="#fbc8ca"/>
<rect x="1233.33" y="909.80" width="37.28" height="28.40" fill="#fde6e7"/>
<rect x="1270.57" y="909.80" width="37.28" height="28.40" fill="#f0f0f8"/>
<rect x="116.30" y="938.15" width="37.28" height="28.40" fill="#fef0f1"/>
<rect x="153.53" y="938.15" width="37.28" height="28.40" fill="#fffafa"/>
<rect x="190.77" y="938.15" width="37.28" height="28.40" fill="#fffafa"/>
<rect x="228.00" y="938.15" width="37.28" height="28.40" fill="#fffafa"/>
<rect x="265.24" y="938.15" width="37.28" height="28.40" fill="#fffafa"/>
<rect x="302.47" y="938.15" width="37.28" height="28.40" fill="#e5e5f3"/>
<rect x="339.71" y="938.15" width="37.28" height="28.40" fill="#dbdbee"/>
<rect x="376.94" y="938.15" width="37.28" height="28.40" fill="#fafafd"/>
<rect x="414.18" y="938.15" width="37.28" height="28.40" fill="#f0f0f8"/>
<rect x="451.41" y="938.15" width="37.28" height="28.40" fill="#fffafa"/>
<rect x="488.64" y="938.15" width="37.28" height="28.40" fill="#fafafd"/>
<rect x="525.88" y="938.15" width="37.28" height="28.40" fill="#f0f0f8"/>
<rect x="563.11" y="938.15" width="37.28" height="28.40" fill="#f0f0f8"/>
<rect x="600.35" y="938.15" width="37.28" height="28.40" fill="#dbdbee"/>
<rect x="637.58" y="938.15" width="37.28" height="28.40" fill="#e5e5f3"/>
<rect x="674.82" y="938.15" width="37.28" height="28.40" fill="#f0f0f8"/>
<rect x="712.05" y="938.15" width="37.28" height="28.40" fill="#bcbcdf"/>
<rect x="749.28" y="938.15" width="37.28" height="28.40" fill="#c6c6e4"/>
<rect x="786.52" y="938.15" width="37.28" height="28.40" fill="#b2b2db"/>
<rect x="823.75" y="938.15" width="37.28" height="28.40" fill="#dbdbee"/>
<rect x="860.99" y="938.15" width="37.28" height="28.40" fill="#d1d1e9"/>
<rect x="898.22" y="938.15" width="37.28" height="28.40" fill="#dbdbee"/>
<rect x="935.46" y="938.15" width="37.28" height="28.40" fill="#a7a7d6"/>
<rect x="972.69" y="938.15" width="37.28" height="28.40" fill="#a7a7d6"/>
<rect x="1009.92" y="938.15" width="37.28" height="28.40" fill="#fffafa"/>
<rect x="1047.16" y="938.15" width="37.28" height="28.40" fill="#f0f0f8"/>
<rect x="1084.39" y="938.15" width="37.28" height="28.40" fill="#fffafa"/>
<rect x="1121.63" y="938.15" width="37.28" height="28.40" fill="#fffafa"/>
<rect x="1158.86" y="938.15" width="37.28" height="28.40" fill="#fbc8ca"/>
<rect x="1196.10" y="938.15" width="37.28" height="28.40" fill="#eb0a14"/>
<rect x="1233.33" y="938.15" width="37.28" height="28.40" fill="#fef0f1"/>
<rect x="1270.57" y="938.15" width="37.28" height="28.40" fill="#fde6e7"/>
<rect x="116.30" y="966.50" width="37.28" height="28.40" fill="#fde6e7"/>
<rect x="153.53" y="966.50" width="37.28" height="28.40" fill="#fef0f1"/>
<rect x="190.77" y="966.50" width="37.28" height="28.40" fill="#fffafa"/>
<rect x="228.00" y="966.50" width="37.28" height="28.40" fill="#fafafd"/>
<rect x="265.24" y="966.50" width="37.28" height="28.40" fill="#fffafa"/>
<rect x="302.47" y="966.50" width="37.28" height="28.40" fill="#f0f0f8"/>
<rect x="339.71" y="966.50" width="37.28" height="28.40" fill="#fafafd"/>
<rect x="376.94" y="966.50" width="37.28" height="28.40" fill="#f0f0f8"/>
<rect x="414.18" y="966.50" width="37.28" height="28.40" fill="#f0f0f8"/>
<rect x="451.41" y="966.50" width="37.28" height="28.40" fill="#fffafa"/>
<rect x="488.64" y="966.50" width="37.28" height="28.40" fill="#fafafd"/>
<rect x="525.88" y="966.50" width="37.28" height="28.40" fill="#f0f0f8"/>
<rect x="563.11" y="966.50" width="37.28" height="28.40" fill="#f0f0f8"/>
<rect x="600.35" y="966.50" width="37.28" height="28.40" fill="#fafafd"/>
<rect x="637.58" y="966.50" width="37.28" height="28.40" fill="#fafafd"/>
<rect x="674.82" y="966.50" width="37.28" height="28.40" fill="#e5e5f3"/>
<rect x="712.05" y="966.50" width="37.28" height="28.40" fill="#e5e5f3"/>
<rect x="749.28" y="966.50" width="37.28" height="28.40" fill="#f0f0f8"/>
<rect x="786.52" y="966.50" width="37.28" height="28.40" fill="#b2b2db"/>
<rect x="823.75" y="966.50" width="37.28" height="28.40" fill="#f0f0f8"/>
<rect x="860.99" y="966.50" width="37.28" height="28.40" fill="#dbdbee"/>
<rect x="898.22" y="966.50" width="37.28" height="28.40" fill="#f0f0f8"/>
<rect x="935.46" y="966.50" width="37.28" height="28.40" fill="#d1d1e9"/>
<rect x="972.69" y="966.50" width="37.28" height="28.40" fill="#f0f0f8"/>
<rect x="1009.92" y="966.50" width="37.28" height="28.40" fill="#fffafa"/>
<rect x="1047.16" y="966.50" width="37.28" height="28.40" fill="#fafafd"/>
<rect x="1084.39" y="966.50" width="37.28" height="28.40" fill="#fafafd"/>
<rect x="1121.63" y="966.50" width="37.28" height="28.40" fill="#fafafd"/>
<rect x="1158.86" y="966.50" width="37.28" height="28.40" fill="#fde6e7"/>
<rect x="1196.10" y="966.50" width="37.28" height="28.40" fill="#fef0f1"/>
<rect x="1233.33" y="966.50" width="37.28" height="28.40" fill="#eb0a14"/>
<rect x="1270.57" y="966.50" width="37.28" height="28.40" fill="#fde6e7"/>
<rect x="116.30" y="994.85" width="37.28" height="28.40" fill="#fbc8ca"/>
<rect x="153.53" y="994.85" width="37.28" height="28.40" fill="#fcdcdd"/>
<rect x="190.77" y="994.85" width="37.28" height="28.40" fill="#fffafa"/>
<rect x="228.00" y="994.85" width="37.28" height="28.40" fill="#fffafa"/>
<rect x="265.24" y="994.85" width="37.28" height="28.40" fill="#fffafa"/>
<rect x="302.47" y="994.85" width="37.28" height="28.40" fill="#f0f0f8"/>
<rect x="339.71" y="994.85" width="37.28" height="28.40" fill="#f0f0f8"/>
<rect x="376.94" y="994.85" width="37.28" height="28.40" fill="#dbdbee"/>
<rect x="414.18" y="994.85" width="37.28" height="28.40" fill="#dbdbee"/>
<rect x="451.41" y="994.85" width="37.28" height="28.40" fill="#fef0f1"/>
<rect x="488.64" y="994.85" width="37.28" height="28.40" fill="#fafafd"/>
<rect x="525.88" y="994.85" width="37.28" height="28.40" fill="#bcbcdf"/>
<rect x="563.11" y="994.85" width="37.28" height="28.40" fill="#f0f0f8"/>
<rect x="600.35" y="994.85" width="37.28" height="28.40" fill="#e5e5f3"/>
<rect x="637.58" y="994.85" width="37.28" height="28.40" fill="#f0f0f8"/>
<rect x="674.82" y="994.85" width="37.28" height="28.40" fill="#f0f0f8"/>
<rect x="712.05" y="994.85" width="37.28" height="28.40" fill="#e5e5f3"/>
<rect x="749.28" y="994.85" width="37.28" height="28.40" fill="#f0f0f8"/>
<rect x="786.52" y="994.85" width="37.28" height="28.40" fill="#b2b2db"/>
<rect x="823.75" y="994.85" width="37.28" height="28.40" fill="#e5e5f3"/>
<rect x="860.99" y="994.85" width="37.28" height="28.40" fill="#e5e5f3"/>
<rect x="898.22" y="994.85" width="37.28" height="28.40" fill="#f0f0f8"/>
<rect x="935.46" y="994.85" width="37.28" height="28.40" fill="#dbdbee"/>
<rect x="972.69" y="994.85" width="37.28" height="28.40" fill="#f0f0f8"/>
<rect x="1009.92" y="994.85" width="37.28" height="28.40" fill="#fafafd"/>
<rect x="1047.16" y="994.85" width="37.28" height="28.40" fill="#fef0f1"/>
<rect x="1084.39" y="994.85" width="37.28" height="28.40" fill="#fffafa"/>
<rect x="1121.63" y="994.85" width="37.28" height="28.40" fill="#fffafa"/>
<rect x="1158.86" y="994.85" width="37.28" height="28.40" fill="#f0f0f8"/>
<rect x="1196.10" y="994.85" width="37.28" height="28.40" fill="#fde6e7"/>
<rect x="1233.33" y="994.85" width="37.28" height="28.40" fill="#fde6e7"/>
<rect x="1270.57" y="994.85" width="37.28" height="28.40" fill="#eb0a14"/>
</g>
<path d="M116.30 115.40V1023.80 M115.70 116.00H1308.40 M153.53 115.40V1023.80 M115.70 144.35H1308.40 M190.77 115.40V1023.80 M115.70 172.70H1308.40 M228.00 115.40V1023.80 M115.70 201.05H1308.40 M265.24 115.40V1023.80 M115.70 229.40H1308.40 M302.47 115.40V1023.80 M115.70 257.75H1308.40 M339.71 115.40V1023.80 M115.70 286.10H1308.40 M376.94 115.40V1023.80 M115.70 314.45H1308.40 M414.18 115.40V1023.80 M115.70 342.80H1308.40 M451.41 115.40V1023.80 M115.70 371.15H1308.40 M488.64 115.40V1023.80 M115.70 399.50H1308.40 M525.88 115.40V1023.80 M115.70 427.85H1308.40 M563.11 115.40V1023.80 M115.70 456.20H1308.40 M600.35 115.40V1023.80 M115.70 484.55H1308.40 M637.58 115.40V1023.80 M115.70 512.90H1308.40 M674.82 115.40V1023.80 M115.70 541.25H1308.40 M712.05 115.40V1023.80 M115.70 569.60H1308.40 M749.28 115.40V1023.80 M115.70 597.95H1308.40 M786.52 115.40V1023.80 M115.70 626.30H1308.40 M823.75 115.40V1023.80 M115.70 654.65H1308.40 M860.99 115.40V1023.80 M115.70 683.00H1308.40 M898.22 115.40V1023.80 M115.70 711.35H1308.40 M935.46 115.40V1023.80 M115.70 739.70H1308.40 M972.69 115.40V1023.80 M115.70 768.05H1308.40 M1009.92 115.40V1023.80 M115.70 796.40H1308.40 M1047.16 115.40V1023.80 M115.70 824.75H1308.40 M1084.39 115.40V1023.80 M115.70 853.10H1308.40 M1121.63 115.40V1023.80 M115.70 881.45H1308.40 M1158.86 115.40V1023.80 M115.70 909.80H1308.40 M1196.10 115.40V1023.80 M115.70 938.15H1308.40 M1233.33 115.40V1023.80 M115.70 966.50H1308.40 M1270.57 115.40V1023.80 M115.70 994.85H1308.40 M1307.80 115.40V1023.80 M115.70 1023.20H1308.40" stroke="#7c7c7c" stroke-width="1.5" fill="none"/>
<path d="M134.92 116.00V63.30H172.15V116.00 M246.62 116.00V107.10H283.85V116.00 M209.39 116.00V99.80H265.24V107.10 M321.09 116.00V99.00H358.32V116.00 M237.31 99.80V86.80H339.71V99.00 M395.56 116.00V108.90H432.79V116.00 M470.03 116.00V98.50H507.26V116.00 M414.18 108.90V69.80H488.64V98.50 M288.51 86.80V56.00H451.41V69.80 M656.20 116.00V65.80H693.43V116.00 M618.96 116.00V63.70H674.82V65.80 M581.73 116.00V59.60H646.89V63.70 M730.67 116.00V95.60H767.90V116.00 M842.37 116.00V67.10H879.60V116.00 M805.14 116.00V63.10H860.99V67.10 M954.07 116.00V69.60H991.31V116.00 M916.84 116.00V62.10H972.69V69.60 M833.06 63.10V60.40H944.76V62.10 M749.28 95.60V59.00H888.91V60.40 M614.31 59.60V56.50H819.10V59.00 M544.50 116.00V54.10H716.70V56.50 M1028.54 116.00V56.50H1065.78V116.00 M1177.48 116.00V67.10H1214.71V116.00 M1251.95 116.00V63.70H1289.18V116.00 M1196.10 67.10V59.30H1270.57V63.70 M1140.25 116.00V56.00H1233.33V59.30 M1103.01 116.00V54.40H1186.79V56.00 M1047.16 56.50V50.00H1144.90V54.40 M630.60 54.10V41.90H1096.03V50.00 M369.96 56.00V25.80H863.31V41.90 M153.53 63.30V2.10H616.64V25.80" stroke="#000" stroke-width="1.60" fill="none" stroke-linejoin="miter"/>
<path d="M116.30 130.18H63.60V158.53H116.30 M116.30 215.23H107.40V243.57H116.30 M116.30 186.88H100.10V229.40H107.40 M116.30 271.93H99.30V300.27H116.30 M100.10 208.14H87.10V286.10H99.30 M116.30 328.62H109.20V356.98H116.30 M116.30 385.32H98.80V413.68H116.30 M109.20 342.80H70.10V399.50H98.80 M87.10 247.12H56.30V371.15H70.10 M116.30 527.08H66.10V555.42H116.30 M116.30 498.73H64.00V541.25H66.10 M116.30 470.38H59.90V519.99H64.00 M116.30 583.78H95.90V612.12H116.30 M116.30 668.83H67.40V697.18H116.30 M116.30 640.48H63.40V683.00H67.40 M116.30 753.88H69.90V782.23H116.30 M116.30 725.52H62.40V768.05H69.90 M63.40 661.74H60.70V746.79H62.40 M95.90 597.95H59.30V704.26H60.70 M59.90 495.18H56.80V651.11H59.30 M116.30 442.03H53.30V573.14H56.80 M116.30 810.58H56.80V838.93H116.30 M116.30 923.98H67.40V952.33H116.30 M116.30 980.68H64.00V1009.03H116.30 M67.40 938.15H59.60V994.85H64.00 M116.30 895.62H56.30V966.50H59.60 M116.30 867.28H54.70V931.06H56.30 M56.80 824.75H50.30V899.17H54.70 M53.30 507.58H42.20V861.96H50.30 M56.30 309.13H26.10V684.77H42.20 M63.60 144.35H2.40V496.95H26.10" stroke="#000" stroke-width="1.60" fill="none" stroke-linejoin="miter"/>
<g font-size="21">
<text transform="translate(1314.3 135.0) scale(1.012 1.080)">LYMPHO</text>
<text transform="translate(1314.3 163.3) scale(1.012 1.080)">LYMPHO%</text>
<text transform="translate(1314.3 191.7) scale(1.012 1.080)">AST</text>
<text transform="translate(1314.3 220.0) scale(1.012 1.080)">CK-MB</text>
<text transform="translate(1314.3 248.4) scale(1.012 1.080)">CK</text>
<text transform="translate(1314.3 276.7) scale(1.012 1.080)">hs-cTnT</text>
<text transform="translate(1314.3 305.1) scale(1.012 1.080)">LDH</text>
<text transform="translate(1314.3 333.4) scale(1.012 1.080)">NEU%</text>
<text transform="translate(1314.3 361.8) scale(1.012 1.080)">NLR</text>
<text transform="translate(1314.3 390.1) scale(1.012 1.080)">WBC</text>
<text transform="translate(1314.3 418.5) scale(1.012 1.080)">NEU</text>
<text transform="translate(1314.3 446.5) scale(1.012 1.080)">HDL</text>
<text transform="translate(1314.3 474.8) scale(1.012 1.080)">Ventricular arrhythmia</text>
<text transform="translate(1314.3 503.1) scale(1.012 1.080)">PH</text>
<text transform="translate(1314.3 531.5) scale(1.012 1.080)">Pericardial effusion</text>
<text transform="translate(1314.3 559.8) scale(1.012 1.080)">Complications</text>
<text transform="translate(1314.3 588.3) scale(1.012 1.080)">D-dimer</text>
<text transform="translate(1314.3 616.7) scale(1.012 1.080)">FDP</text>
<text transform="translate(1314.3 646.7) scale(1.012 1.080)">Age</text>
<text transform="translate(1314.3 674.6) scale(1.012 1.080)">Killip<tspan class="rn" font-size="19.2" dx="7.2">Ⅲ/Ⅳ</tspan></text>
<text transform="translate(1314.3 702.8) scale(1.012 1.080)">BUN</text>
<text transform="translate(1314.3 731.1) scale(1.012 1.080)">Lipoprotein(a)</text>
<text transform="translate(1314.3 758.7) scale(1.012 1.080)">NT-ProBNP</text>
<text transform="translate(1314.3 786.7) scale(1.012 1.080)">Fibrinogen</text>
<text transform="translate(1314.3 814.7) scale(1.012 1.080)">STEMI</text>
<text transform="translate(1314.3 843.0) scale(1.012 1.080)">HbA1c</text>
<text transform="translate(1314.3 871.4) scale(1.012 1.080)">PCT</text>
<text transform="translate(1314.3 899.7) scale(1.012 1.080)">LVEF</text>
<text transform="translate(1314.3 928.1) scale(1.012 1.080)">Male</text>
<text transform="translate(1314.3 956.4) scale(1.012 1.080)">A/G</text>
<text transform="translate(1314.3 984.8) scale(1.012 1.080)">BMI</text>
<text transform="translate(1314.3 1013.1) scale(1.012 1.080)">TG</text>
</g>
<g font-size="21">
<text transform="translate(139.1 1029.2) rotate(90) scale(1.015 1.080)">LYMPHO</text>
<text transform="translate(175.6 1029.2) rotate(90) scale(1.015 1.080)">LYMPHO%</text>
<text transform="translate(212.0 1029.2) rotate(90) scale(1.015 1.080)">AST</text>
<text transform="translate(248.5 1029.2) rotate(90) scale(1.015 1.080)">CK-MB</text>
<text transform="translate(285.5 1029.2) rotate(90) scale(1.015 1.080)">CK</text>
<text transform="translate(323.3 1029.2) rotate(90) scale(1.015 1.080)">hs-cTnT</text>
<text transform="translate(359.8 1029.2) rotate(90) scale(1.015 1.080)">LDH</text>
<text transform="translate(397.1 1029.2) rotate(90) scale(1.015 1.080)">NEU%</text>
<text transform="translate(434.3 1029.2) rotate(90) scale(1.015 1.080)">NLR</text>
<text transform="translate(471.3 1029.2) rotate(90) scale(1.015 1.080)">WBC</text>
<text transform="translate(509.1 1029.2) rotate(90) scale(1.015 1.080)">NEU</text>
<text transform="translate(545.7 1029.2) rotate(90) scale(1.015 1.080)">HDL</text>
<text transform="translate(578.3 1030.2) rotate(90) scale(1.015 1.020)" font-size="18" textLength="163.5" lengthAdjust="spacingAndGlyphs">Ventricular arrhythmia</text>
<text transform="translate(617.0 1029.2) rotate(90) scale(1.015 1.080)">PH</text>
<text transform="translate(653.5 1030.0) rotate(90) scale(1.015 1.020)" font-size="18" textLength="159.2" lengthAdjust="spacingAndGlyphs">Pericardial effusion</text>
<text transform="translate(690.4 1029.2) rotate(90) scale(1.015 1.080)">Complications</text>
<text transform="translate(725.6 1029.2) rotate(90) scale(1.015 1.080)">D-dimer</text>
<text transform="translate(764.5 1029.2) rotate(90) scale(1.015 1.080)">FDP</text>
<text transform="translate(800.9 1029.2) rotate(90) scale(1.015 1.080)">Age</text>
<text transform="translate(836.0 1029.2) rotate(90) scale(1.015 1.080)">Killip<tspan class="rn" font-size="19.2" dx="7.2">Ⅲ/Ⅳ</tspan></text>
<text transform="translate(877.0 1029.2) rotate(90) scale(1.015 1.080)">BUN</text>
<text transform="translate(913.9 1029.2) rotate(90) scale(1.015 1.080)">Lipoprotein(a)</text>
<text transform="translate(951.6 1029.2) rotate(90) scale(1.015 1.080)">NT-ProBNP</text>
<text transform="translate(988.5 1029.2) rotate(90) scale(1.015 1.080)">Fibrinogen</text>
<text transform="translate(1025.9 1029.2) rotate(90) scale(1.015 1.080)">STEMI</text>
<text transform="translate(1062.9 1029.2) rotate(90) scale(1.015 1.080)">HbA1c</text>
<text transform="translate(1100.1 1029.2) rotate(90) scale(1.015 1.080)">PCT</text>
<text transform="translate(1137.1 1029.2) rotate(90) scale(1.015 1.080)">LVEF</text>
<text transform="translate(1174.1 1029.2) rotate(90) scale(1.015 1.080)">Male</text>
<text transform="translate(1211.4 1029.2) rotate(90) scale(1.015 1.080)">A/G</text>
<text transform="translate(1244.5 1029.2) rotate(90) scale(1.015 1.080)">BMI</text>
<text transform="translate(1281.8 1029.2) rotate(90) scale(1.015 1.080)">TG</text>
</g>
<g shape-rendering="crispEdges">
<rect x="1461.0" y="115.80" width="21.2" height="6.80" fill="#eb0a14"/>
<rect x="1461.0" y="122.30" width="21.2" height="6.80" fill="#ec141e"/>
<rect x="1461.0" y="128.80" width="21.2" height="6.80" fill="#ed1e27"/>
<rect x="1461.0" y="135.30" width="21.2" height="6.80" fill="#ed2831"/>
<rect x="1461.0" y="141.80" width="21.2" height="6.80" fill="#ee323a"/>
<rect x="1461.0" y="148.30" width="21.2" height="6.80" fill="#ef3c44"/>
<rect x="1461.0" y="154.80" width="21.2" height="6.80" fill="#f0464e"/>
<rect x="1461.0" y="161.30" width="21.2" height="6.80" fill="#f15057"/>
<rect x="1461.0" y="167.80" width="21.2" height="6.80" fill="#f25a61"/>
<rect x="1461.0" y="174.30" width="21.2" height="6.80" fill="#f2646a"/>
<rect x="1461.0" y="180.80" width="21.2" height="6.80" fill="#f36e74"/>
<rect x="1461.0" y="187.30" width="21.2" height="6.80" fill="#f4787e"/>
<rect x="1461.0" y="193.80" width="21.2" height="6.80" fill="#f58287"/>
<rect x="1461.0" y="200.30" width="21.2" height="6.80" fill="#f68c91"/>
<rect x="1461.0" y="206.80" width="21.2" height="6.80" fill="#f6969a"/>
<rect x="1461.0" y="213.30" width="21.2" height="6.80" fill="#f7a0a4"/>
<rect x="1461.0" y="219.80" width="21.2" height="6.80" fill="#f8aaad"/>
<rect x="1461.0" y="226.30" width="21.2" height="6.80" fill="#f9b4b7"/>
<rect x="1461.0" y="232.80" width="21.2" height="6.80" fill="#fabec1"/>
<rect x="1461.0" y="239.30" width="21.2" height="6.80" fill="#fbc8ca"/>
<rect x="1461.0" y="245.80" width="21.2" height="6.80" fill="#fbd2d4"/>
<rect x="1461.0" y="252.30" width="21.2" height="6.80" fill="#fcdcdd"/>
<rect x="1461.0" y="258.80" width="21.2" height="6.80" fill="#fde6e7"/>
<rect x="1461.0" y="265.30" width="21.2" height="6.80" fill="#fef0f1"/>
<rect x="1461.0" y="271.80" width="21.2" height="6.80" fill="#fffafa"/>
<rect x="1461.0" y="278.30" width="21.2" height="6.80" fill="#fafafd"/>
<rect x="1461.0" y="284.80" width="21.2" height="6.80" fill="#f0f0f8"/>
<rect x="1461.0" y="291.30" width="21.2" height="6.80" fill="#e5e5f3"/>
<rect x="1461.0" y="297.80" width="21.2" height="6.80" fill="#dbdbee"/>
<rect x="1461.0" y="304.30" width="21.2" height="6.80" fill="#d1d1e9"/>
<rect x="1461.0" y="310.80" width="21.2" height="6.80" fill="#c6c6e4"/>
<rect x="1461.0" y="317.30" width="21.2" height="6.80" fill="#bcbcdf"/>
<rect x="1461.0" y="323.80" width="21.2" height="6.80" fill="#b2b2db"/>
<rect x="1461.0" y="330.30" width="21.2" height="6.80" fill="#a7a7d6"/>
<rect x="1461.0" y="336.80" width="21.2" height="6.80" fill="#9d9dd1"/>
<rect x="1461.0" y="343.30" width="21.2" height="6.80" fill="#9393cc"/>
<rect x="1461.0" y="349.80" width="21.2" height="6.80" fill="#8888c7"/>
<rect x="1461.0" y="356.30" width="21.2" height="6.80" fill="#7e7ec2"/>
<rect x="1461.0" y="362.80" width="21.2" height="6.80" fill="#7474bd"/>
<rect x="1461.0" y="369.30" width="21.2" height="6.80" fill="#6969b9"/>
<rect x="1461.0" y="375.80" width="21.2" height="6.80" fill="#5f5fb4"/>
<rect x="1461.0" y="382.30" width="21.2" height="6.80" fill="#5555af"/>
<rect x="1461.0" y="388.80" width="21.2" height="6.80" fill="#4a4aaa"/>
<rect x="1461.0" y="395.30" width="21.2" height="6.80" fill="#4040a5"/>
<rect x="1461.0" y="401.80" width="21.2" height="6.80" fill="#3636a0"/>
<rect x="1461.0" y="408.30" width="21.2" height="6.80" fill="#2b2b9b"/>
<rect x="1461.0" y="414.80" width="21.2" height="6.80" fill="#212197"/>
<rect x="1461.0" y="421.30" width="21.2" height="6.80" fill="#171792"/>
<rect x="1461.0" y="427.80" width="21.2" height="6.80" fill="#0c0c8d"/>
<rect x="1461.0" y="434.30" width="21.2" height="6.80" fill="#020288"/>
</g>
<g font-size="19.4">
<text transform="translate(1492.5 123.0) scale(1.000 1.080)">1.0</text>
<text transform="translate(1491.8 206.0) scale(1.000 1.080)">0.5</text>
<text transform="translate(1491.8 288.0) scale(1.000 1.080)">0</text>
<text transform="translate(1492.0 371.0) scale(1.040 1.080)">−0.5</text>
<text transform="translate(1492.0 443.0) scale(1.040 1.080)">−1.0</text>
</g>
</svg></body></html>
